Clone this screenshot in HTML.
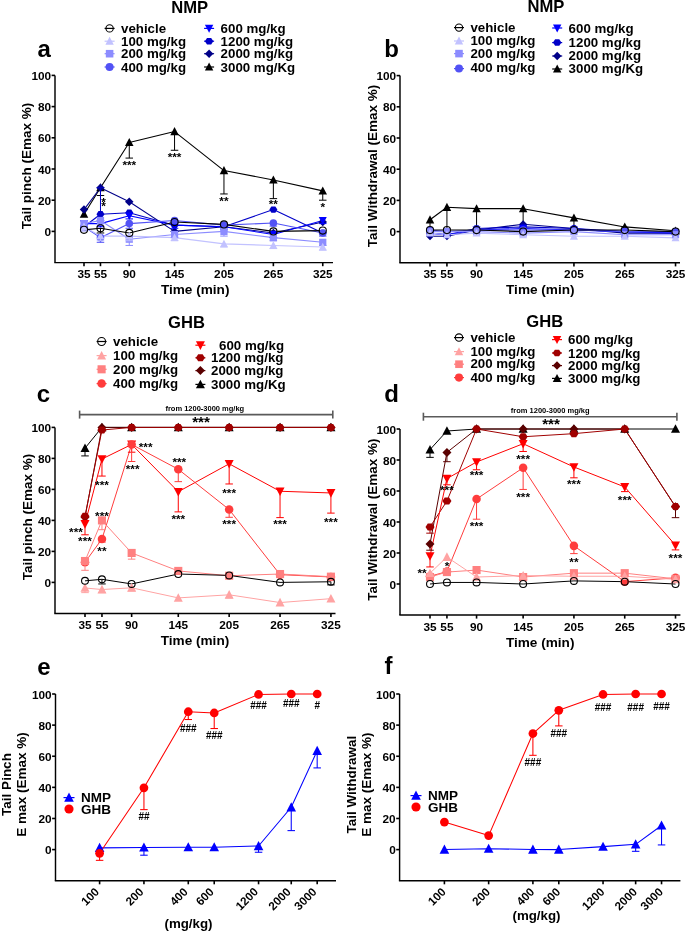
<!DOCTYPE html>
<html><head><meta charset="utf-8"><style>
html,body{margin:0;padding:0;background:#fff;}
body{width:685px;height:932px;overflow:hidden;font-family:"Liberation Sans",sans-serif;}
svg{display:block;will-change:transform;}
</style></head><body>
<svg width="685" height="932" viewBox="0 0 685 932" font-family="Liberation Sans, sans-serif"><text x="44.20" y="56.50" font-size="24" font-weight="bold" text-anchor="middle" fill="#000" >a</text>
<text x="189.60" y="13.00" font-size="16.6" font-weight="bold" text-anchor="middle" fill="#000" >NMP</text>
<line x1="104.60" y1="28.40" x2="114.60" y2="28.40" stroke="#000" stroke-width="1.2" />
<circle cx="109.60" cy="28.40" r="3.65" fill="none" stroke="#000" stroke-width="1.1"/>
<text x="121.00" y="33.00" font-size="13.3" font-weight="bold" text-anchor="start" fill="#000" >vehicle</text>
<line x1="104.60" y1="41.20" x2="114.60" y2="41.20" stroke="#c2c2ff" stroke-width="1.2" />
<polygon points="109.60,36.81 113.80,44.79 105.40,44.79" fill="#c2c2ff"/>
<text x="121.00" y="45.80" font-size="13.3" font-weight="bold" text-anchor="start" fill="#000" >100 mg/kg</text>
<line x1="104.60" y1="53.70" x2="114.60" y2="53.70" stroke="#8c8cff" stroke-width="1.2" />
<rect x="105.82" y="49.92" width="7.56" height="7.56" fill="#8c8cff"/>
<text x="121.00" y="58.30" font-size="13.3" font-weight="bold" text-anchor="start" fill="#000" >200 mg/kg</text>
<line x1="104.60" y1="67.00" x2="114.60" y2="67.00" stroke="#5252f5" stroke-width="1.2" />
<circle cx="109.60" cy="67.00" r="3.99" fill="#5252f5"/>
<text x="121.00" y="71.60" font-size="13.3" font-weight="bold" text-anchor="start" fill="#000" >400 mg/kg</text>
<line x1="204.10" y1="28.40" x2="214.10" y2="28.40" stroke="#0000ff" stroke-width="1.2" />
<polygon points="204.90,24.81 213.30,24.81 209.10,32.79" fill="#0000ff"/>
<text x="220.60" y="33.00" font-size="13.3" font-weight="bold" text-anchor="start" fill="#000" >600 mg/kg</text>
<line x1="204.10" y1="41.20" x2="214.10" y2="41.20" stroke="#0000c8" stroke-width="1.2" />
<polygon points="213.30,41.20 211.20,44.47 207.00,44.47 204.90,41.20 207.00,37.93 211.20,37.93" fill="#0000c8"/>
<text x="220.60" y="45.80" font-size="13.3" font-weight="bold" text-anchor="start" fill="#000" >1200 mg/kg</text>
<line x1="204.10" y1="53.70" x2="214.10" y2="53.70" stroke="#000088" stroke-width="1.2" />
<polygon points="209.10,49.50 213.30,53.70 209.10,57.90 204.90,53.70" fill="#000088"/>
<text x="220.60" y="58.30" font-size="13.3" font-weight="bold" text-anchor="start" fill="#000" >2000 mg/kg</text>
<line x1="204.10" y1="67.00" x2="214.10" y2="67.00" stroke="#000000" stroke-width="1.2" />
<polygon points="209.10,62.61 213.30,70.59 204.90,70.59" fill="#000000"/>
<text x="220.60" y="71.60" font-size="13.3" font-weight="bold" text-anchor="start" fill="#000" >3000 mg/Kg</text>
<line x1="55.00" y1="75.40" x2="55.00" y2="262.60" stroke="#000" stroke-width="1.45" />
<line x1="51.60" y1="75.40" x2="55.00" y2="75.40" stroke="#000" stroke-width="1.6" />
<text x="51.10" y="79.90" font-size="11.8" font-weight="bold" text-anchor="end" fill="#000" >100</text>
<line x1="51.60" y1="106.60" x2="55.00" y2="106.60" stroke="#000" stroke-width="1.6" />
<text x="51.10" y="111.10" font-size="11.8" font-weight="bold" text-anchor="end" fill="#000" >80</text>
<line x1="51.60" y1="137.80" x2="55.00" y2="137.80" stroke="#000" stroke-width="1.6" />
<text x="51.10" y="142.30" font-size="11.8" font-weight="bold" text-anchor="end" fill="#000" >60</text>
<line x1="51.60" y1="169.00" x2="55.00" y2="169.00" stroke="#000" stroke-width="1.6" />
<text x="51.10" y="173.50" font-size="11.8" font-weight="bold" text-anchor="end" fill="#000" >40</text>
<line x1="51.60" y1="200.20" x2="55.00" y2="200.20" stroke="#000" stroke-width="1.6" />
<text x="51.10" y="204.70" font-size="11.8" font-weight="bold" text-anchor="end" fill="#000" >20</text>
<line x1="51.60" y1="231.40" x2="55.00" y2="231.40" stroke="#000" stroke-width="1.6" />
<text x="51.10" y="235.90" font-size="11.8" font-weight="bold" text-anchor="end" fill="#000" >0</text>
<line x1="54.30" y1="262.60" x2="333.00" y2="262.60" stroke="#000" stroke-width="1.45" />
<line x1="84.00" y1="262.60" x2="84.00" y2="266.20" stroke="#000" stroke-width="1.6" />
<text x="84.00" y="278.20" font-size="11.8" font-weight="bold" text-anchor="middle" fill="#000" >35</text>
<line x1="100.47" y1="262.60" x2="100.47" y2="266.20" stroke="#000" stroke-width="1.6" />
<text x="100.47" y="278.20" font-size="11.8" font-weight="bold" text-anchor="middle" fill="#000" >55</text>
<line x1="129.28" y1="262.60" x2="129.28" y2="266.20" stroke="#000" stroke-width="1.6" />
<text x="129.28" y="278.20" font-size="11.8" font-weight="bold" text-anchor="middle" fill="#000" >90</text>
<line x1="174.56" y1="262.60" x2="174.56" y2="266.20" stroke="#000" stroke-width="1.6" />
<text x="174.56" y="278.20" font-size="11.8" font-weight="bold" text-anchor="middle" fill="#000" >145</text>
<line x1="223.96" y1="262.60" x2="223.96" y2="266.20" stroke="#000" stroke-width="1.6" />
<text x="223.96" y="278.20" font-size="11.8" font-weight="bold" text-anchor="middle" fill="#000" >205</text>
<line x1="273.36" y1="262.60" x2="273.36" y2="266.20" stroke="#000" stroke-width="1.6" />
<text x="273.36" y="278.20" font-size="11.8" font-weight="bold" text-anchor="middle" fill="#000" >265</text>
<line x1="322.76" y1="262.60" x2="322.76" y2="266.20" stroke="#000" stroke-width="1.6" />
<text x="322.76" y="278.20" font-size="11.8" font-weight="bold" text-anchor="middle" fill="#000" >325</text>
<text x="195.20" y="294.20" font-size="13.6" font-weight="bold" text-anchor="middle" fill="#000" >Time (min)</text>
<text x="31.40" y="166.00" font-size="13.5" font-weight="bold" text-anchor="middle" transform="rotate(-90 31.40 166.00)">Tail pinch (Emax %)</text>
<polyline points="84.00,214.24 100.47,187.72 129.28,142.48 174.56,131.56 223.96,170.56 273.36,179.92 322.76,190.84" fill="none" stroke="#000000" stroke-width="1.1" stroke-linejoin="round"/>
<polyline points="84.00,209.56 100.47,187.72 129.28,201.76 174.56,231.40 223.96,226.72 273.36,232.96 322.76,222.04" fill="none" stroke="#000088" stroke-width="1.1" stroke-linejoin="round"/>
<polyline points="84.00,226.72 100.47,214.24 129.28,212.68 174.56,225.16 223.96,226.72 273.36,209.56 322.76,232.96" fill="none" stroke="#0000c8" stroke-width="1.1" stroke-linejoin="round"/>
<polyline points="84.00,223.60 100.47,223.60 129.28,215.80 174.56,225.16 223.96,226.72 273.36,234.52 322.76,220.48" fill="none" stroke="#0000ff" stroke-width="1.1" stroke-linejoin="round"/>
<polyline points="84.00,226.72 100.47,237.64 129.28,223.60 174.56,220.48 223.96,225.16 273.36,222.98 322.76,232.96" fill="none" stroke="#5252f5" stroke-width="1.1" stroke-linejoin="round"/>
<polyline points="84.00,223.60 100.47,220.48 129.28,239.20 174.56,234.52 223.96,231.40 273.36,237.64 322.76,242.32" fill="none" stroke="#8c8cff" stroke-width="1.1" stroke-linejoin="round"/>
<polyline points="84.00,226.72 100.47,236.08 129.28,236.08 174.56,237.64 223.96,243.88 273.36,245.44 322.76,247.00" fill="none" stroke="#c2c2ff" stroke-width="1.1" stroke-linejoin="round"/>
<polyline points="84.00,229.84 100.47,228.28 129.28,232.96 174.56,222.04 223.96,224.38 273.36,231.40 322.76,230.62" fill="none" stroke="#000000" stroke-width="1.1" stroke-linejoin="round"/>
<line x1="100.47" y1="187.72" x2="100.47" y2="195.52" stroke="#000000" stroke-width="1.0" />
<line x1="96.72" y1="195.52" x2="104.22" y2="195.52" stroke="#000000" stroke-width="1.0" />
<line x1="129.28" y1="142.48" x2="129.28" y2="158.08" stroke="#000000" stroke-width="1.0" />
<line x1="125.53" y1="158.08" x2="133.03" y2="158.08" stroke="#000000" stroke-width="1.0" />
<line x1="174.56" y1="131.56" x2="174.56" y2="150.28" stroke="#000000" stroke-width="1.0" />
<line x1="170.81" y1="150.28" x2="178.31" y2="150.28" stroke="#000000" stroke-width="1.0" />
<line x1="223.96" y1="170.56" x2="223.96" y2="193.96" stroke="#000000" stroke-width="1.0" />
<line x1="220.21" y1="193.96" x2="227.71" y2="193.96" stroke="#000000" stroke-width="1.0" />
<line x1="273.36" y1="179.92" x2="273.36" y2="198.64" stroke="#000000" stroke-width="1.0" />
<line x1="269.61" y1="198.64" x2="277.11" y2="198.64" stroke="#000000" stroke-width="1.0" />
<line x1="322.76" y1="190.84" x2="322.76" y2="200.20" stroke="#000000" stroke-width="1.0" />
<line x1="319.01" y1="200.20" x2="326.51" y2="200.20" stroke="#000000" stroke-width="1.0" />
<polygon points="84.00,209.80 88.25,217.87 79.75,217.87" fill="#000000"/>
<polygon points="100.47,183.28 104.72,191.35 96.22,191.35" fill="#000000"/>
<polygon points="129.28,138.04 133.53,146.11 125.03,146.11" fill="#000000"/>
<polygon points="174.56,127.12 178.81,135.19 170.31,135.19" fill="#000000"/>
<polygon points="223.96,166.12 228.21,174.19 219.71,174.19" fill="#000000"/>
<polygon points="273.36,175.48 277.61,183.55 269.11,183.55" fill="#000000"/>
<polygon points="322.76,186.40 327.01,194.47 318.51,194.47" fill="#000000"/>
<polygon points="84.00,205.31 88.25,209.56 84.00,213.81 79.75,209.56" fill="#000088"/>
<polygon points="100.47,183.47 104.72,187.72 100.47,191.97 96.22,187.72" fill="#000088"/>
<polygon points="129.28,197.51 133.53,201.76 129.28,206.01 125.03,201.76" fill="#000088"/>
<polygon points="174.56,227.15 178.81,231.40 174.56,235.65 170.31,231.40" fill="#000088"/>
<polygon points="223.96,222.47 228.21,226.72 223.96,230.97 219.71,226.72" fill="#000088"/>
<polygon points="273.36,228.71 277.61,232.96 273.36,237.21 269.11,232.96" fill="#000088"/>
<polygon points="322.76,217.79 327.01,222.04 322.76,226.29 318.51,222.04" fill="#000088"/>
<line x1="100.47" y1="214.24" x2="100.47" y2="187.72" stroke="#0000c8" stroke-width="1.0" />
<line x1="96.72" y1="187.72" x2="104.22" y2="187.72" stroke="#0000c8" stroke-width="1.0" />
<polygon points="88.00,226.72 86.00,229.84 82.00,229.84 80.00,226.72 82.00,223.60 86.00,223.60" fill="#0000c8"/>
<polygon points="104.47,214.24 102.47,217.36 98.47,217.36 96.47,214.24 98.47,211.12 102.47,211.12" fill="#0000c8"/>
<polygon points="133.28,212.68 131.28,215.80 127.28,215.80 125.28,212.68 127.28,209.56 131.28,209.56" fill="#0000c8"/>
<polygon points="178.56,225.16 176.56,228.28 172.56,228.28 170.56,225.16 172.56,222.04 176.56,222.04" fill="#0000c8"/>
<polygon points="227.96,226.72 225.96,229.84 221.96,229.84 219.96,226.72 221.96,223.60 225.96,223.60" fill="#0000c8"/>
<polygon points="277.36,209.56 275.36,212.68 271.36,212.68 269.36,209.56 271.36,206.44 275.36,206.44" fill="#0000c8"/>
<polygon points="326.76,232.96 324.76,236.08 320.76,236.08 318.76,232.96 320.76,229.84 324.76,229.84" fill="#0000c8"/>
<line x1="84.00" y1="223.60" x2="84.00" y2="226.72" stroke="#0000ff" stroke-width="1.0" />
<line x1="80.25" y1="226.72" x2="87.75" y2="226.72" stroke="#0000ff" stroke-width="1.0" />
<line x1="100.47" y1="223.60" x2="100.47" y2="226.72" stroke="#0000ff" stroke-width="1.0" />
<line x1="96.72" y1="226.72" x2="104.22" y2="226.72" stroke="#0000ff" stroke-width="1.0" />
<line x1="129.28" y1="215.80" x2="129.28" y2="218.92" stroke="#0000ff" stroke-width="1.0" />
<line x1="125.53" y1="218.92" x2="133.03" y2="218.92" stroke="#0000ff" stroke-width="1.0" />
<line x1="174.56" y1="225.16" x2="174.56" y2="228.28" stroke="#0000ff" stroke-width="1.0" />
<line x1="170.81" y1="228.28" x2="178.31" y2="228.28" stroke="#0000ff" stroke-width="1.0" />
<line x1="223.96" y1="226.72" x2="223.96" y2="229.84" stroke="#0000ff" stroke-width="1.0" />
<line x1="220.21" y1="229.84" x2="227.71" y2="229.84" stroke="#0000ff" stroke-width="1.0" />
<line x1="273.36" y1="234.52" x2="273.36" y2="237.64" stroke="#0000ff" stroke-width="1.0" />
<line x1="269.61" y1="237.64" x2="277.11" y2="237.64" stroke="#0000ff" stroke-width="1.0" />
<line x1="322.76" y1="220.48" x2="322.76" y2="223.60" stroke="#0000ff" stroke-width="1.0" />
<line x1="319.01" y1="223.60" x2="326.51" y2="223.60" stroke="#0000ff" stroke-width="1.0" />
<polygon points="80.00,220.18 88.00,220.18 84.00,227.78" fill="#0000ff"/>
<polygon points="96.47,220.18 104.47,220.18 100.47,227.78" fill="#0000ff"/>
<polygon points="125.28,212.38 133.28,212.38 129.28,219.98" fill="#0000ff"/>
<polygon points="170.56,221.74 178.56,221.74 174.56,229.34" fill="#0000ff"/>
<polygon points="219.96,223.30 227.96,223.30 223.96,230.90" fill="#0000ff"/>
<polygon points="269.36,231.10 277.36,231.10 273.36,238.70" fill="#0000ff"/>
<polygon points="318.76,217.06 326.76,217.06 322.76,224.66" fill="#0000ff"/>
<line x1="84.00" y1="226.72" x2="84.00" y2="229.84" stroke="#5252f5" stroke-width="1.0" />
<line x1="80.25" y1="229.84" x2="87.75" y2="229.84" stroke="#5252f5" stroke-width="1.0" />
<line x1="100.47" y1="237.64" x2="100.47" y2="242.32" stroke="#5252f5" stroke-width="1.0" />
<line x1="96.72" y1="242.32" x2="104.22" y2="242.32" stroke="#5252f5" stroke-width="1.0" />
<line x1="129.28" y1="223.60" x2="129.28" y2="228.28" stroke="#5252f5" stroke-width="1.0" />
<line x1="125.53" y1="228.28" x2="133.03" y2="228.28" stroke="#5252f5" stroke-width="1.0" />
<line x1="174.56" y1="220.48" x2="174.56" y2="223.60" stroke="#5252f5" stroke-width="1.0" />
<line x1="170.81" y1="223.60" x2="178.31" y2="223.60" stroke="#5252f5" stroke-width="1.0" />
<line x1="223.96" y1="225.16" x2="223.96" y2="228.28" stroke="#5252f5" stroke-width="1.0" />
<line x1="220.21" y1="228.28" x2="227.71" y2="228.28" stroke="#5252f5" stroke-width="1.0" />
<line x1="273.36" y1="222.98" x2="273.36" y2="226.10" stroke="#5252f5" stroke-width="1.0" />
<line x1="269.61" y1="226.10" x2="277.11" y2="226.10" stroke="#5252f5" stroke-width="1.0" />
<line x1="322.76" y1="232.96" x2="322.76" y2="236.08" stroke="#5252f5" stroke-width="1.0" />
<line x1="319.01" y1="236.08" x2="326.51" y2="236.08" stroke="#5252f5" stroke-width="1.0" />
<circle cx="84.00" cy="226.72" r="3.80" fill="#5252f5"/>
<circle cx="100.47" cy="237.64" r="3.80" fill="#5252f5"/>
<circle cx="129.28" cy="223.60" r="3.80" fill="#5252f5"/>
<circle cx="174.56" cy="220.48" r="3.80" fill="#5252f5"/>
<circle cx="223.96" cy="225.16" r="3.80" fill="#5252f5"/>
<circle cx="273.36" cy="222.98" r="3.80" fill="#5252f5"/>
<circle cx="322.76" cy="232.96" r="3.80" fill="#5252f5"/>
<line x1="84.00" y1="223.60" x2="84.00" y2="228.28" stroke="#8c8cff" stroke-width="1.0" />
<line x1="80.25" y1="228.28" x2="87.75" y2="228.28" stroke="#8c8cff" stroke-width="1.0" />
<line x1="100.47" y1="220.48" x2="100.47" y2="225.16" stroke="#8c8cff" stroke-width="1.0" />
<line x1="96.72" y1="225.16" x2="104.22" y2="225.16" stroke="#8c8cff" stroke-width="1.0" />
<line x1="129.28" y1="239.20" x2="129.28" y2="245.44" stroke="#8c8cff" stroke-width="1.0" />
<line x1="125.53" y1="245.44" x2="133.03" y2="245.44" stroke="#8c8cff" stroke-width="1.0" />
<line x1="174.56" y1="234.52" x2="174.56" y2="237.64" stroke="#8c8cff" stroke-width="1.0" />
<line x1="170.81" y1="237.64" x2="178.31" y2="237.64" stroke="#8c8cff" stroke-width="1.0" />
<line x1="223.96" y1="231.40" x2="223.96" y2="236.08" stroke="#8c8cff" stroke-width="1.0" />
<line x1="220.21" y1="236.08" x2="227.71" y2="236.08" stroke="#8c8cff" stroke-width="1.0" />
<line x1="273.36" y1="237.64" x2="273.36" y2="240.76" stroke="#8c8cff" stroke-width="1.0" />
<line x1="269.61" y1="240.76" x2="277.11" y2="240.76" stroke="#8c8cff" stroke-width="1.0" />
<line x1="322.76" y1="242.32" x2="322.76" y2="245.44" stroke="#8c8cff" stroke-width="1.0" />
<line x1="319.01" y1="245.44" x2="326.51" y2="245.44" stroke="#8c8cff" stroke-width="1.0" />
<rect x="80.40" y="220.00" width="7.20" height="7.20" fill="#8c8cff"/>
<rect x="96.87" y="216.88" width="7.20" height="7.20" fill="#8c8cff"/>
<rect x="125.68" y="235.60" width="7.20" height="7.20" fill="#8c8cff"/>
<rect x="170.96" y="230.92" width="7.20" height="7.20" fill="#8c8cff"/>
<rect x="220.36" y="227.80" width="7.20" height="7.20" fill="#8c8cff"/>
<rect x="269.76" y="234.04" width="7.20" height="7.20" fill="#8c8cff"/>
<rect x="319.16" y="238.72" width="7.20" height="7.20" fill="#8c8cff"/>
<line x1="84.00" y1="226.72" x2="84.00" y2="231.40" stroke="#c2c2ff" stroke-width="1.0" />
<line x1="80.25" y1="231.40" x2="87.75" y2="231.40" stroke="#c2c2ff" stroke-width="1.0" />
<line x1="100.47" y1="236.08" x2="100.47" y2="240.76" stroke="#c2c2ff" stroke-width="1.0" />
<line x1="96.72" y1="240.76" x2="104.22" y2="240.76" stroke="#c2c2ff" stroke-width="1.0" />
<line x1="129.28" y1="236.08" x2="129.28" y2="240.76" stroke="#c2c2ff" stroke-width="1.0" />
<line x1="125.53" y1="240.76" x2="133.03" y2="240.76" stroke="#c2c2ff" stroke-width="1.0" />
<line x1="174.56" y1="237.64" x2="174.56" y2="240.76" stroke="#c2c2ff" stroke-width="1.0" />
<line x1="170.81" y1="240.76" x2="178.31" y2="240.76" stroke="#c2c2ff" stroke-width="1.0" />
<line x1="223.96" y1="243.88" x2="223.96" y2="247.00" stroke="#c2c2ff" stroke-width="1.0" />
<line x1="220.21" y1="247.00" x2="227.71" y2="247.00" stroke="#c2c2ff" stroke-width="1.0" />
<line x1="273.36" y1="245.44" x2="273.36" y2="248.56" stroke="#c2c2ff" stroke-width="1.0" />
<line x1="269.61" y1="248.56" x2="277.11" y2="248.56" stroke="#c2c2ff" stroke-width="1.0" />
<line x1="322.76" y1="247.00" x2="322.76" y2="250.12" stroke="#c2c2ff" stroke-width="1.0" />
<line x1="319.01" y1="250.12" x2="326.51" y2="250.12" stroke="#c2c2ff" stroke-width="1.0" />
<polygon points="84.00,222.54 88.00,230.14 80.00,230.14" fill="#c2c2ff"/>
<polygon points="100.47,231.90 104.47,239.50 96.47,239.50" fill="#c2c2ff"/>
<polygon points="129.28,231.90 133.28,239.50 125.28,239.50" fill="#c2c2ff"/>
<polygon points="174.56,233.46 178.56,241.06 170.56,241.06" fill="#c2c2ff"/>
<polygon points="223.96,239.70 227.96,247.30 219.96,247.30" fill="#c2c2ff"/>
<polygon points="273.36,241.26 277.36,248.86 269.36,248.86" fill="#c2c2ff"/>
<polygon points="322.76,242.82 326.76,250.42 318.76,250.42" fill="#c2c2ff"/>
<line x1="100.47" y1="228.28" x2="100.47" y2="232.96" stroke="#000" stroke-width="1.0" />
<line x1="96.72" y1="232.96" x2="104.22" y2="232.96" stroke="#000" stroke-width="1.0" />
<circle cx="84.00" cy="229.84" r="3.55" fill="none" stroke="#000" stroke-width="1.1"/>
<circle cx="100.47" cy="228.28" r="3.55" fill="none" stroke="#000" stroke-width="1.1"/>
<circle cx="129.28" cy="232.96" r="3.55" fill="none" stroke="#000" stroke-width="1.1"/>
<circle cx="174.56" cy="222.04" r="3.55" fill="none" stroke="#000" stroke-width="1.1"/>
<circle cx="223.96" cy="224.38" r="3.55" fill="none" stroke="#000" stroke-width="1.1"/>
<circle cx="273.36" cy="231.40" r="3.55" fill="none" stroke="#000" stroke-width="1.1"/>
<circle cx="322.76" cy="230.62" r="3.55" fill="none" stroke="#000" stroke-width="1.1"/>
<text x="103.67" y="205.60" font-size="11.8" font-weight="bold" text-anchor="middle" fill="#000" >*</text>
<text x="103.67" y="210.28" font-size="11.8" font-weight="bold" text-anchor="middle" fill="#000" >*</text>
<text x="129.28" y="169.25" font-size="11.8" font-weight="bold" text-anchor="middle" fill="#000" >***</text>
<text x="174.56" y="161.45" font-size="11.8" font-weight="bold" text-anchor="middle" fill="#000" >***</text>
<text x="223.96" y="205.13" font-size="11.8" font-weight="bold" text-anchor="middle" fill="#000" >**</text>
<text x="273.36" y="208.25" font-size="11.8" font-weight="bold" text-anchor="middle" fill="#000" >**</text>
<text x="322.76" y="211.37" font-size="11.8" font-weight="bold" text-anchor="middle" fill="#000" >*</text>
<text x="391.50" y="57.00" font-size="24" font-weight="bold" text-anchor="middle" fill="#000" >b</text>
<text x="546.00" y="11.80" font-size="16.6" font-weight="bold" text-anchor="middle" fill="#000" >NMP</text>
<line x1="454.00" y1="27.60" x2="464.00" y2="27.60" stroke="#000" stroke-width="1.2" />
<circle cx="459.00" cy="27.60" r="3.65" fill="none" stroke="#000" stroke-width="1.1"/>
<text x="470.40" y="31.80" font-size="13.3" font-weight="bold" text-anchor="start" fill="#000" >vehicle</text>
<line x1="454.00" y1="41.00" x2="464.00" y2="41.00" stroke="#c2c2ff" stroke-width="1.2" />
<polygon points="459.00,36.61 463.20,44.59 454.80,44.59" fill="#c2c2ff"/>
<text x="470.40" y="44.60" font-size="13.3" font-weight="bold" text-anchor="start" fill="#000" >100 mg/kg</text>
<line x1="454.00" y1="53.60" x2="464.00" y2="53.60" stroke="#8c8cff" stroke-width="1.2" />
<rect x="455.22" y="49.82" width="7.56" height="7.56" fill="#8c8cff"/>
<text x="470.40" y="57.60" font-size="13.3" font-weight="bold" text-anchor="start" fill="#000" >200 mg/kg</text>
<line x1="454.00" y1="68.60" x2="464.00" y2="68.60" stroke="#5252f5" stroke-width="1.2" />
<circle cx="459.00" cy="68.60" r="3.99" fill="#5252f5"/>
<text x="470.40" y="72.00" font-size="13.3" font-weight="bold" text-anchor="start" fill="#000" >400 mg/kg</text>
<line x1="552.20" y1="28.00" x2="562.20" y2="28.00" stroke="#0000ff" stroke-width="1.2" />
<polygon points="553.00,24.41 561.40,24.41 557.20,32.39" fill="#0000ff"/>
<text x="568.60" y="32.60" font-size="13.3" font-weight="bold" text-anchor="start" fill="#000" >600 mg/kg</text>
<line x1="552.20" y1="42.60" x2="562.20" y2="42.60" stroke="#0000c8" stroke-width="1.2" />
<polygon points="561.40,42.60 559.30,45.87 555.10,45.87 553.00,42.60 555.10,39.33 559.30,39.33" fill="#0000c8"/>
<text x="568.60" y="46.60" font-size="13.3" font-weight="bold" text-anchor="start" fill="#000" >1200 mg/kg</text>
<line x1="552.20" y1="56.00" x2="562.20" y2="56.00" stroke="#000088" stroke-width="1.2" />
<polygon points="557.20,51.80 561.40,56.00 557.20,60.20 553.00,56.00" fill="#000088"/>
<text x="568.60" y="59.60" font-size="13.3" font-weight="bold" text-anchor="start" fill="#000" >2000 mg/kg</text>
<line x1="552.20" y1="69.00" x2="562.20" y2="69.00" stroke="#000000" stroke-width="1.2" />
<polygon points="557.20,64.61 561.40,72.59 553.00,72.59" fill="#000000"/>
<text x="568.60" y="73.00" font-size="13.3" font-weight="bold" text-anchor="start" fill="#000" >3000 mg/Kg</text>
<line x1="400.00" y1="75.60" x2="400.00" y2="262.80" stroke="#000" stroke-width="1.45" />
<line x1="396.60" y1="75.60" x2="400.00" y2="75.60" stroke="#000" stroke-width="1.6" />
<text x="396.10" y="80.10" font-size="11.8" font-weight="bold" text-anchor="end" fill="#000" >100</text>
<line x1="396.60" y1="106.80" x2="400.00" y2="106.80" stroke="#000" stroke-width="1.6" />
<text x="396.10" y="111.30" font-size="11.8" font-weight="bold" text-anchor="end" fill="#000" >80</text>
<line x1="396.60" y1="138.00" x2="400.00" y2="138.00" stroke="#000" stroke-width="1.6" />
<text x="396.10" y="142.50" font-size="11.8" font-weight="bold" text-anchor="end" fill="#000" >60</text>
<line x1="396.60" y1="169.20" x2="400.00" y2="169.20" stroke="#000" stroke-width="1.6" />
<text x="396.10" y="173.70" font-size="11.8" font-weight="bold" text-anchor="end" fill="#000" >40</text>
<line x1="396.60" y1="200.40" x2="400.00" y2="200.40" stroke="#000" stroke-width="1.6" />
<text x="396.10" y="204.90" font-size="11.8" font-weight="bold" text-anchor="end" fill="#000" >20</text>
<line x1="396.60" y1="231.60" x2="400.00" y2="231.60" stroke="#000" stroke-width="1.6" />
<text x="396.10" y="236.10" font-size="11.8" font-weight="bold" text-anchor="end" fill="#000" >0</text>
<line x1="399.30" y1="262.80" x2="680.00" y2="262.80" stroke="#000" stroke-width="1.45" />
<line x1="430.00" y1="262.80" x2="430.00" y2="266.40" stroke="#000" stroke-width="1.6" />
<text x="430.00" y="278.40" font-size="11.8" font-weight="bold" text-anchor="middle" fill="#000" >35</text>
<line x1="446.93" y1="262.80" x2="446.93" y2="266.40" stroke="#000" stroke-width="1.6" />
<text x="446.93" y="278.40" font-size="11.8" font-weight="bold" text-anchor="middle" fill="#000" >55</text>
<line x1="476.57" y1="262.80" x2="476.57" y2="266.40" stroke="#000" stroke-width="1.6" />
<text x="476.57" y="278.40" font-size="11.8" font-weight="bold" text-anchor="middle" fill="#000" >90</text>
<line x1="523.14" y1="262.80" x2="523.14" y2="266.40" stroke="#000" stroke-width="1.6" />
<text x="523.14" y="278.40" font-size="11.8" font-weight="bold" text-anchor="middle" fill="#000" >145</text>
<line x1="573.94" y1="262.80" x2="573.94" y2="266.40" stroke="#000" stroke-width="1.6" />
<text x="573.94" y="278.40" font-size="11.8" font-weight="bold" text-anchor="middle" fill="#000" >205</text>
<line x1="624.74" y1="262.80" x2="624.74" y2="266.40" stroke="#000" stroke-width="1.6" />
<text x="624.74" y="278.40" font-size="11.8" font-weight="bold" text-anchor="middle" fill="#000" >265</text>
<line x1="675.54" y1="262.80" x2="675.54" y2="266.40" stroke="#000" stroke-width="1.6" />
<text x="675.54" y="278.40" font-size="11.8" font-weight="bold" text-anchor="middle" fill="#000" >325</text>
<text x="540.30" y="294.40" font-size="13.6" font-weight="bold" text-anchor="middle" fill="#000" >Time (min)</text>
<text x="377.40" y="166.00" font-size="13.5" font-weight="bold" text-anchor="middle" transform="rotate(-90 377.40 166.00)">Tail Withdrawal (Emax %)</text>
<polyline points="430.00,219.74 446.93,207.26 476.57,208.67 523.14,208.67 573.94,217.87 624.74,226.92 675.54,230.82" fill="none" stroke="#000000" stroke-width="1.1" stroke-linejoin="round"/>
<polyline points="430.00,236.28 446.93,236.28 476.57,230.04 523.14,224.27 573.94,228.48 624.74,233.16 675.54,233.16" fill="none" stroke="#000088" stroke-width="1.1" stroke-linejoin="round"/>
<polyline points="430.00,233.16 446.93,234.72 476.57,228.48 523.14,226.92 573.94,228.48 624.74,231.60 675.54,231.60" fill="none" stroke="#0000c8" stroke-width="1.1" stroke-linejoin="round"/>
<polyline points="430.00,233.16 446.93,234.72 476.57,230.04 523.14,228.48 573.94,230.04 624.74,231.60 675.54,233.16" fill="none" stroke="#0000ff" stroke-width="1.1" stroke-linejoin="round"/>
<polyline points="430.00,230.04 446.93,231.60 476.57,230.04 523.14,230.04 573.94,230.04 624.74,231.60 675.54,231.60" fill="none" stroke="#5252f5" stroke-width="1.1" stroke-linejoin="round"/>
<polyline points="430.00,231.60 446.93,231.60 476.57,231.60 523.14,233.16 573.94,231.60 624.74,234.72 675.54,234.72" fill="none" stroke="#8c8cff" stroke-width="1.1" stroke-linejoin="round"/>
<polyline points="430.00,233.16 446.93,234.72 476.57,233.16 523.14,234.72 573.94,236.28 624.74,236.28 675.54,237.84" fill="none" stroke="#c2c2ff" stroke-width="1.1" stroke-linejoin="round"/>
<polyline points="430.00,230.04 446.93,230.04 476.57,230.04 523.14,231.60 573.94,230.04 624.74,230.04 675.54,231.60" fill="none" stroke="#000000" stroke-width="1.1" stroke-linejoin="round"/>
<line x1="430.00" y1="219.74" x2="430.00" y2="230.66" stroke="#000000" stroke-width="1.0" />
<line x1="426.25" y1="230.66" x2="433.75" y2="230.66" stroke="#000000" stroke-width="1.0" />
<line x1="446.93" y1="207.26" x2="446.93" y2="230.66" stroke="#000000" stroke-width="1.0" />
<line x1="443.18" y1="230.66" x2="450.68" y2="230.66" stroke="#000000" stroke-width="1.0" />
<line x1="476.57" y1="208.67" x2="476.57" y2="230.51" stroke="#000000" stroke-width="1.0" />
<line x1="472.82" y1="230.51" x2="480.32" y2="230.51" stroke="#000000" stroke-width="1.0" />
<line x1="523.14" y1="208.67" x2="523.14" y2="230.51" stroke="#000000" stroke-width="1.0" />
<line x1="519.39" y1="230.51" x2="526.89" y2="230.51" stroke="#000000" stroke-width="1.0" />
<line x1="573.94" y1="217.87" x2="573.94" y2="230.35" stroke="#000000" stroke-width="1.0" />
<line x1="570.19" y1="230.35" x2="577.69" y2="230.35" stroke="#000000" stroke-width="1.0" />
<line x1="624.74" y1="226.92" x2="624.74" y2="231.60" stroke="#000000" stroke-width="1.0" />
<line x1="620.99" y1="231.60" x2="628.49" y2="231.60" stroke="#000000" stroke-width="1.0" />
<polygon points="430.00,215.30 434.25,223.38 425.75,223.38" fill="#000000"/>
<polygon points="446.93,202.82 451.18,210.90 442.68,210.90" fill="#000000"/>
<polygon points="476.57,204.23 480.82,212.30 472.32,212.30" fill="#000000"/>
<polygon points="523.14,204.23 527.39,212.30 518.89,212.30" fill="#000000"/>
<polygon points="573.94,213.43 578.19,221.51 569.69,221.51" fill="#000000"/>
<polygon points="624.74,222.48 628.99,230.55 620.49,230.55" fill="#000000"/>
<polygon points="675.54,226.38 679.79,234.45 671.29,234.45" fill="#000000"/>
<polygon points="430.00,232.28 434.00,236.28 430.00,240.28 426.00,236.28" fill="#000088"/>
<polygon points="446.93,232.28 450.93,236.28 446.93,240.28 442.93,236.28" fill="#000088"/>
<polygon points="476.57,226.04 480.57,230.04 476.57,234.04 472.57,230.04" fill="#000088"/>
<polygon points="523.14,220.27 527.14,224.27 523.14,228.27 519.14,224.27" fill="#000088"/>
<polygon points="573.94,224.48 577.94,228.48 573.94,232.48 569.94,228.48" fill="#000088"/>
<polygon points="624.74,229.16 628.74,233.16 624.74,237.16 620.74,233.16" fill="#000088"/>
<polygon points="675.54,229.16 679.54,233.16 675.54,237.16 671.54,233.16" fill="#000088"/>
<polygon points="434.00,233.16 432.00,236.28 428.00,236.28 426.00,233.16 428.00,230.04 432.00,230.04" fill="#0000c8"/>
<polygon points="450.93,234.72 448.93,237.84 444.93,237.84 442.93,234.72 444.93,231.60 448.93,231.60" fill="#0000c8"/>
<polygon points="480.57,228.48 478.57,231.60 474.57,231.60 472.57,228.48 474.57,225.36 478.57,225.36" fill="#0000c8"/>
<polygon points="527.14,226.92 525.14,230.04 521.14,230.04 519.14,226.92 521.14,223.80 525.14,223.80" fill="#0000c8"/>
<polygon points="577.94,228.48 575.94,231.60 571.94,231.60 569.94,228.48 571.94,225.36 575.94,225.36" fill="#0000c8"/>
<polygon points="628.74,231.60 626.74,234.72 622.74,234.72 620.74,231.60 622.74,228.48 626.74,228.48" fill="#0000c8"/>
<polygon points="679.54,231.60 677.54,234.72 673.54,234.72 671.54,231.60 673.54,228.48 677.54,228.48" fill="#0000c8"/>
<polygon points="426.00,229.74 434.00,229.74 430.00,237.34" fill="#0000ff"/>
<polygon points="442.93,231.30 450.93,231.30 446.93,238.90" fill="#0000ff"/>
<polygon points="472.57,226.62 480.57,226.62 476.57,234.22" fill="#0000ff"/>
<polygon points="519.14,225.06 527.14,225.06 523.14,232.66" fill="#0000ff"/>
<polygon points="569.94,226.62 577.94,226.62 573.94,234.22" fill="#0000ff"/>
<polygon points="620.74,228.18 628.74,228.18 624.74,235.78" fill="#0000ff"/>
<polygon points="671.54,229.74 679.54,229.74 675.54,237.34" fill="#0000ff"/>
<circle cx="430.00" cy="230.04" r="3.80" fill="#5252f5"/>
<circle cx="446.93" cy="231.60" r="3.80" fill="#5252f5"/>
<circle cx="476.57" cy="230.04" r="3.80" fill="#5252f5"/>
<circle cx="523.14" cy="230.04" r="3.80" fill="#5252f5"/>
<circle cx="573.94" cy="230.04" r="3.80" fill="#5252f5"/>
<circle cx="624.74" cy="231.60" r="3.80" fill="#5252f5"/>
<circle cx="675.54" cy="231.60" r="3.80" fill="#5252f5"/>
<rect x="426.40" y="228.00" width="7.20" height="7.20" fill="#8c8cff"/>
<rect x="443.33" y="228.00" width="7.20" height="7.20" fill="#8c8cff"/>
<rect x="472.97" y="228.00" width="7.20" height="7.20" fill="#8c8cff"/>
<rect x="519.54" y="229.56" width="7.20" height="7.20" fill="#8c8cff"/>
<rect x="570.34" y="228.00" width="7.20" height="7.20" fill="#8c8cff"/>
<rect x="621.14" y="231.12" width="7.20" height="7.20" fill="#8c8cff"/>
<rect x="671.94" y="231.12" width="7.20" height="7.20" fill="#8c8cff"/>
<polygon points="430.00,228.98 434.00,236.58 426.00,236.58" fill="#c2c2ff"/>
<polygon points="446.93,230.54 450.93,238.14 442.93,238.14" fill="#c2c2ff"/>
<polygon points="476.57,228.98 480.57,236.58 472.57,236.58" fill="#c2c2ff"/>
<polygon points="523.14,230.54 527.14,238.14 519.14,238.14" fill="#c2c2ff"/>
<polygon points="573.94,232.10 577.94,239.70 569.94,239.70" fill="#c2c2ff"/>
<polygon points="624.74,232.10 628.74,239.70 620.74,239.70" fill="#c2c2ff"/>
<polygon points="675.54,233.66 679.54,241.26 671.54,241.26" fill="#c2c2ff"/>
<circle cx="430.00" cy="230.04" r="3.55" fill="none" stroke="#000" stroke-width="1.1"/>
<circle cx="446.93" cy="230.04" r="3.55" fill="none" stroke="#000" stroke-width="1.1"/>
<circle cx="476.57" cy="230.04" r="3.55" fill="none" stroke="#000" stroke-width="1.1"/>
<circle cx="523.14" cy="231.60" r="3.55" fill="none" stroke="#000" stroke-width="1.1"/>
<circle cx="573.94" cy="230.04" r="3.55" fill="none" stroke="#000" stroke-width="1.1"/>
<circle cx="624.74" cy="230.04" r="3.55" fill="none" stroke="#000" stroke-width="1.1"/>
<circle cx="675.54" cy="231.60" r="3.55" fill="none" stroke="#000" stroke-width="1.1"/>
<text x="43.50" y="402.40" font-size="24" font-weight="bold" text-anchor="middle" fill="#000" >c</text>
<text x="186.50" y="328.20" font-size="16.6" font-weight="bold" text-anchor="middle" fill="#000" >GHB</text>
<line x1="96.60" y1="341.50" x2="106.60" y2="341.50" stroke="#000" stroke-width="1.2" />
<circle cx="101.60" cy="341.50" r="3.95" fill="none" stroke="#000" stroke-width="1.1"/>
<text x="113.00" y="345.80" font-size="13.3" font-weight="bold" text-anchor="start" fill="#000" >vehicle</text>
<line x1="96.60" y1="355.60" x2="106.60" y2="355.60" stroke="#ffa3a3" stroke-width="1.2" />
<polygon points="101.60,350.90 106.10,359.45 97.10,359.45" fill="#ffa3a3"/>
<text x="113.00" y="359.90" font-size="13.3" font-weight="bold" text-anchor="start" fill="#000" >100 mg/kg</text>
<line x1="96.60" y1="369.30" x2="106.60" y2="369.30" stroke="#ff8080" stroke-width="1.2" />
<rect x="97.55" y="365.25" width="8.10" height="8.10" fill="#ff8080"/>
<text x="113.00" y="373.60" font-size="13.3" font-weight="bold" text-anchor="start" fill="#000" >200 mg/kg</text>
<line x1="96.60" y1="383.60" x2="106.60" y2="383.60" stroke="#ff3c3c" stroke-width="1.2" />
<circle cx="101.60" cy="383.60" r="4.27" fill="#ff3c3c"/>
<text x="113.00" y="387.90" font-size="13.3" font-weight="bold" text-anchor="start" fill="#000" >400 mg/kg</text>
<line x1="195.40" y1="345.20" x2="205.40" y2="345.20" stroke="#ff0000" stroke-width="1.2" />
<polygon points="195.90,341.35 204.90,341.35 200.40,349.90" fill="#ff0000"/>
<text x="219.00" y="349.80" font-size="13.3" font-weight="bold" text-anchor="start" fill="#000" >600 mg/kg</text>
<line x1="195.40" y1="357.80" x2="205.40" y2="357.80" stroke="#a00000" stroke-width="1.2" />
<polygon points="204.90,357.80 202.65,361.31 198.15,361.31 195.90,357.80 198.15,354.29 202.65,354.29" fill="#a00000"/>
<text x="211.00" y="362.40" font-size="13.3" font-weight="bold" text-anchor="start" fill="#000" >1200 mg/kg</text>
<line x1="195.40" y1="370.60" x2="205.40" y2="370.60" stroke="#5a0000" stroke-width="1.2" />
<polygon points="200.40,366.10 204.90,370.60 200.40,375.10 195.90,370.60" fill="#5a0000"/>
<text x="211.00" y="375.20" font-size="13.3" font-weight="bold" text-anchor="start" fill="#000" >2000 mg/kg</text>
<line x1="195.40" y1="384.40" x2="205.40" y2="384.40" stroke="#000000" stroke-width="1.2" />
<polygon points="200.40,379.70 204.90,388.25 195.90,388.25" fill="#000000"/>
<text x="211.00" y="389.00" font-size="13.3" font-weight="bold" text-anchor="start" fill="#000" >3000 mg/Kg</text>
<line x1="55.00" y1="427.40" x2="55.00" y2="613.40" stroke="#000" stroke-width="1.45" />
<line x1="51.60" y1="427.40" x2="55.00" y2="427.40" stroke="#000" stroke-width="1.6" />
<text x="51.10" y="431.90" font-size="11.8" font-weight="bold" text-anchor="end" fill="#000" >100</text>
<line x1="51.60" y1="458.40" x2="55.00" y2="458.40" stroke="#000" stroke-width="1.6" />
<text x="51.10" y="462.90" font-size="11.8" font-weight="bold" text-anchor="end" fill="#000" >80</text>
<line x1="51.60" y1="489.40" x2="55.00" y2="489.40" stroke="#000" stroke-width="1.6" />
<text x="51.10" y="493.90" font-size="11.8" font-weight="bold" text-anchor="end" fill="#000" >60</text>
<line x1="51.60" y1="520.40" x2="55.00" y2="520.40" stroke="#000" stroke-width="1.6" />
<text x="51.10" y="524.90" font-size="11.8" font-weight="bold" text-anchor="end" fill="#000" >40</text>
<line x1="51.60" y1="551.40" x2="55.00" y2="551.40" stroke="#000" stroke-width="1.6" />
<text x="51.10" y="555.90" font-size="11.8" font-weight="bold" text-anchor="end" fill="#000" >20</text>
<line x1="51.60" y1="582.40" x2="55.00" y2="582.40" stroke="#000" stroke-width="1.6" />
<text x="51.10" y="586.90" font-size="11.8" font-weight="bold" text-anchor="end" fill="#000" >0</text>
<line x1="54.30" y1="613.40" x2="335.50" y2="613.40" stroke="#000" stroke-width="1.45" />
<line x1="85.00" y1="613.40" x2="85.00" y2="617.00" stroke="#000" stroke-width="1.6" />
<text x="85.00" y="629.00" font-size="11.8" font-weight="bold" text-anchor="middle" fill="#000" >35</text>
<line x1="101.96" y1="613.40" x2="101.96" y2="617.00" stroke="#000" stroke-width="1.6" />
<text x="101.96" y="629.00" font-size="11.8" font-weight="bold" text-anchor="middle" fill="#000" >55</text>
<line x1="131.64" y1="613.40" x2="131.64" y2="617.00" stroke="#000" stroke-width="1.6" />
<text x="131.64" y="629.00" font-size="11.8" font-weight="bold" text-anchor="middle" fill="#000" >90</text>
<line x1="178.28" y1="613.40" x2="178.28" y2="617.00" stroke="#000" stroke-width="1.6" />
<text x="178.28" y="629.00" font-size="11.8" font-weight="bold" text-anchor="middle" fill="#000" >145</text>
<line x1="229.16" y1="613.40" x2="229.16" y2="617.00" stroke="#000" stroke-width="1.6" />
<text x="229.16" y="629.00" font-size="11.8" font-weight="bold" text-anchor="middle" fill="#000" >205</text>
<line x1="280.04" y1="613.40" x2="280.04" y2="617.00" stroke="#000" stroke-width="1.6" />
<text x="280.04" y="629.00" font-size="11.8" font-weight="bold" text-anchor="middle" fill="#000" >265</text>
<line x1="330.92" y1="613.40" x2="330.92" y2="617.00" stroke="#000" stroke-width="1.6" />
<text x="330.92" y="629.00" font-size="11.8" font-weight="bold" text-anchor="middle" fill="#000" >325</text>
<text x="195.00" y="645.00" font-size="13.6" font-weight="bold" text-anchor="middle" fill="#000" >Time (min)</text>
<text x="32.40" y="517.00" font-size="13.5" font-weight="bold" text-anchor="middle" transform="rotate(-90 32.40 517.00)">Tail pinch (Emax %)</text>
<polyline points="85.00,448.17 101.96,427.40 131.64,427.40 178.28,427.40 229.16,427.40 280.04,427.40 330.92,427.40" fill="none" stroke="#000000" stroke-width="1.0" stroke-linejoin="round"/>
<polyline points="85.00,517.30 101.96,427.40 131.64,427.40 178.28,427.40 229.16,427.40 280.04,427.40 330.92,427.40" fill="none" stroke="#5a0000" stroke-width="1.0" stroke-linejoin="round"/>
<polyline points="85.00,516.21 101.96,430.03 131.64,427.40 178.28,427.40 229.16,427.40 280.04,427.40 330.92,427.40" fill="none" stroke="#a00000" stroke-width="1.0" stroke-linejoin="round"/>
<polyline points="85.00,523.96 101.96,459.02 131.64,444.45 178.28,491.72 229.16,463.82 280.04,491.26 330.92,492.96" fill="none" stroke="#ff0000" stroke-width="1.0" stroke-linejoin="round"/>
<polyline points="85.00,562.25 101.96,539.00 131.64,444.45 178.28,469.25 229.16,509.55 280.04,574.65 330.92,576.98" fill="none" stroke="#ff3c3c" stroke-width="1.0" stroke-linejoin="round"/>
<polyline points="85.00,561.01 101.96,520.40 131.64,552.95 178.28,570.93 229.16,575.74 280.04,574.03 330.92,576.66" fill="none" stroke="#ff8080" stroke-width="1.0" stroke-linejoin="round"/>
<polyline points="85.00,587.98 101.96,589.53 131.64,587.82 178.28,597.90 229.16,594.80 280.04,602.55 330.92,598.67" fill="none" stroke="#ffa3a3" stroke-width="1.0" stroke-linejoin="round"/>
<polyline points="85.00,580.85 101.96,579.30 131.64,583.95 178.28,574.03 229.16,575.42 280.04,582.40 330.92,581.78" fill="none" stroke="#000000" stroke-width="1.0" stroke-linejoin="round"/>
<line x1="85.00" y1="448.17" x2="85.00" y2="455.92" stroke="#000000" stroke-width="1.0" />
<line x1="81.25" y1="455.92" x2="88.75" y2="455.92" stroke="#000000" stroke-width="1.0" />
<polygon points="85.00,443.47 89.50,452.02 80.50,452.02" fill="#000000"/>
<polygon points="101.96,422.70 106.46,431.25 97.46,431.25" fill="#000000"/>
<polygon points="131.64,422.70 136.14,431.25 127.14,431.25" fill="#000000"/>
<polygon points="178.28,422.70 182.78,431.25 173.78,431.25" fill="#000000"/>
<polygon points="229.16,422.70 233.66,431.25 224.66,431.25" fill="#000000"/>
<polygon points="280.04,422.70 284.54,431.25 275.54,431.25" fill="#000000"/>
<polygon points="330.92,422.70 335.42,431.25 326.42,431.25" fill="#000000"/>
<polygon points="85.00,512.80 89.50,517.30 85.00,521.80 80.50,517.30" fill="#5a0000"/>
<polygon points="101.96,422.90 106.46,427.40 101.96,431.90 97.46,427.40" fill="#5a0000"/>
<polygon points="131.64,422.90 136.14,427.40 131.64,431.90 127.14,427.40" fill="#5a0000"/>
<polygon points="178.28,422.90 182.78,427.40 178.28,431.90 173.78,427.40" fill="#5a0000"/>
<polygon points="229.16,422.90 233.66,427.40 229.16,431.90 224.66,427.40" fill="#5a0000"/>
<polygon points="280.04,422.90 284.54,427.40 280.04,431.90 275.54,427.40" fill="#5a0000"/>
<polygon points="330.92,422.90 335.42,427.40 330.92,431.90 326.42,427.40" fill="#5a0000"/>
<polygon points="89.50,516.21 87.25,519.72 82.75,519.72 80.50,516.21 82.75,512.71 87.25,512.71" fill="#a00000"/>
<polygon points="106.46,430.03 104.21,433.54 99.71,433.54 97.46,430.03 99.71,426.53 104.21,426.53" fill="#a00000"/>
<polygon points="136.14,427.40 133.89,430.91 129.39,430.91 127.14,427.40 129.39,423.89 133.89,423.89" fill="#a00000"/>
<polygon points="182.78,427.40 180.53,430.91 176.03,430.91 173.78,427.40 176.03,423.89 180.53,423.89" fill="#a00000"/>
<polygon points="233.66,427.40 231.41,430.91 226.91,430.91 224.66,427.40 226.91,423.89 231.41,423.89" fill="#a00000"/>
<polygon points="284.54,427.40 282.29,430.91 277.79,430.91 275.54,427.40 277.79,423.89 282.29,423.89" fill="#a00000"/>
<polygon points="335.42,427.40 333.17,430.91 328.67,430.91 326.42,427.40 328.67,423.89 333.17,423.89" fill="#a00000"/>
<line x1="85.00" y1="523.96" x2="85.00" y2="534.81" stroke="#ff0000" stroke-width="1.0" />
<line x1="81.25" y1="534.81" x2="88.75" y2="534.81" stroke="#ff0000" stroke-width="1.0" />
<line x1="101.96" y1="459.02" x2="101.96" y2="476.07" stroke="#ff0000" stroke-width="1.0" />
<line x1="98.21" y1="476.07" x2="105.71" y2="476.07" stroke="#ff0000" stroke-width="1.0" />
<line x1="131.64" y1="444.45" x2="131.64" y2="452.20" stroke="#ff0000" stroke-width="1.0" />
<line x1="127.89" y1="452.20" x2="135.39" y2="452.20" stroke="#ff0000" stroke-width="1.0" />
<line x1="178.28" y1="491.72" x2="178.28" y2="511.88" stroke="#ff0000" stroke-width="1.0" />
<line x1="174.53" y1="511.88" x2="182.03" y2="511.88" stroke="#ff0000" stroke-width="1.0" />
<line x1="229.16" y1="463.82" x2="229.16" y2="483.97" stroke="#ff0000" stroke-width="1.0" />
<line x1="225.41" y1="483.97" x2="232.91" y2="483.97" stroke="#ff0000" stroke-width="1.0" />
<line x1="280.04" y1="491.26" x2="280.04" y2="517.61" stroke="#ff0000" stroke-width="1.0" />
<line x1="276.29" y1="517.61" x2="283.79" y2="517.61" stroke="#ff0000" stroke-width="1.0" />
<line x1="330.92" y1="492.96" x2="330.92" y2="513.12" stroke="#ff0000" stroke-width="1.0" />
<line x1="327.17" y1="513.12" x2="334.67" y2="513.12" stroke="#ff0000" stroke-width="1.0" />
<polygon points="80.50,520.12 89.50,520.12 85.00,528.67" fill="#ff0000"/>
<polygon points="97.46,455.17 106.46,455.17 101.96,463.72" fill="#ff0000"/>
<polygon points="127.14,440.60 136.14,440.60 131.64,449.15" fill="#ff0000"/>
<polygon points="173.78,487.88 182.78,487.88 178.28,496.43" fill="#ff0000"/>
<polygon points="224.66,459.98 233.66,459.98 229.16,468.53" fill="#ff0000"/>
<polygon points="275.54,487.41 284.54,487.41 280.04,495.96" fill="#ff0000"/>
<polygon points="326.42,489.12 335.42,489.12 330.92,497.67" fill="#ff0000"/>
<line x1="101.96" y1="539.00" x2="101.96" y2="542.10" stroke="#ff3c3c" stroke-width="1.0" />
<line x1="98.21" y1="542.10" x2="105.71" y2="542.10" stroke="#ff3c3c" stroke-width="1.0" />
<line x1="131.64" y1="444.45" x2="131.64" y2="461.50" stroke="#ff3c3c" stroke-width="1.0" />
<line x1="127.89" y1="461.50" x2="135.39" y2="461.50" stroke="#ff3c3c" stroke-width="1.0" />
<line x1="178.28" y1="469.25" x2="178.28" y2="481.65" stroke="#ff3c3c" stroke-width="1.0" />
<line x1="174.53" y1="481.65" x2="182.03" y2="481.65" stroke="#ff3c3c" stroke-width="1.0" />
<line x1="229.16" y1="509.55" x2="229.16" y2="517.30" stroke="#ff3c3c" stroke-width="1.0" />
<line x1="225.41" y1="517.30" x2="232.91" y2="517.30" stroke="#ff3c3c" stroke-width="1.0" />
<circle cx="85.00" cy="562.25" r="4.27" fill="#ff3c3c"/>
<circle cx="101.96" cy="539.00" r="4.27" fill="#ff3c3c"/>
<circle cx="131.64" cy="444.45" r="4.27" fill="#ff3c3c"/>
<circle cx="178.28" cy="469.25" r="4.27" fill="#ff3c3c"/>
<circle cx="229.16" cy="509.55" r="4.27" fill="#ff3c3c"/>
<circle cx="280.04" cy="574.65" r="4.27" fill="#ff3c3c"/>
<circle cx="330.92" cy="576.98" r="4.27" fill="#ff3c3c"/>
<line x1="85.00" y1="561.01" x2="85.00" y2="570.31" stroke="#ff8080" stroke-width="1.0" />
<line x1="81.25" y1="570.31" x2="88.75" y2="570.31" stroke="#ff8080" stroke-width="1.0" />
<line x1="101.96" y1="520.40" x2="101.96" y2="529.70" stroke="#ff8080" stroke-width="1.0" />
<line x1="98.21" y1="529.70" x2="105.71" y2="529.70" stroke="#ff8080" stroke-width="1.0" />
<line x1="131.64" y1="552.95" x2="131.64" y2="559.15" stroke="#ff8080" stroke-width="1.0" />
<line x1="127.89" y1="559.15" x2="135.39" y2="559.15" stroke="#ff8080" stroke-width="1.0" />
<rect x="80.95" y="556.96" width="8.10" height="8.10" fill="#ff8080"/>
<rect x="97.91" y="516.35" width="8.10" height="8.10" fill="#ff8080"/>
<rect x="127.59" y="548.90" width="8.10" height="8.10" fill="#ff8080"/>
<rect x="174.23" y="566.88" width="8.10" height="8.10" fill="#ff8080"/>
<rect x="225.11" y="571.69" width="8.10" height="8.10" fill="#ff8080"/>
<rect x="275.99" y="569.98" width="8.10" height="8.10" fill="#ff8080"/>
<rect x="326.87" y="572.62" width="8.10" height="8.10" fill="#ff8080"/>
<line x1="85.00" y1="587.98" x2="85.00" y2="592.63" stroke="#ffa3a3" stroke-width="1.0" />
<line x1="81.25" y1="592.63" x2="88.75" y2="592.63" stroke="#ffa3a3" stroke-width="1.0" />
<line x1="101.96" y1="589.53" x2="101.96" y2="592.63" stroke="#ffa3a3" stroke-width="1.0" />
<line x1="98.21" y1="592.63" x2="105.71" y2="592.63" stroke="#ffa3a3" stroke-width="1.0" />
<line x1="131.64" y1="587.82" x2="131.64" y2="590.92" stroke="#ffa3a3" stroke-width="1.0" />
<line x1="127.89" y1="590.92" x2="135.39" y2="590.92" stroke="#ffa3a3" stroke-width="1.0" />
<line x1="229.16" y1="594.80" x2="229.16" y2="597.90" stroke="#ffa3a3" stroke-width="1.0" />
<line x1="225.41" y1="597.90" x2="232.91" y2="597.90" stroke="#ffa3a3" stroke-width="1.0" />
<polygon points="85.00,583.28 89.50,591.83 80.50,591.83" fill="#ffa3a3"/>
<polygon points="101.96,584.83 106.46,593.38 97.46,593.38" fill="#ffa3a3"/>
<polygon points="131.64,583.12 136.14,591.67 127.14,591.67" fill="#ffa3a3"/>
<polygon points="178.28,593.20 182.78,601.75 173.78,601.75" fill="#ffa3a3"/>
<polygon points="229.16,590.10 233.66,598.65 224.66,598.65" fill="#ffa3a3"/>
<polygon points="280.04,597.85 284.54,606.40 275.54,606.40" fill="#ffa3a3"/>
<polygon points="330.92,593.97 335.42,602.52 326.42,602.52" fill="#ffa3a3"/>
<line x1="101.96" y1="579.30" x2="101.96" y2="583.95" stroke="#000" stroke-width="1.0" />
<line x1="98.21" y1="583.95" x2="105.71" y2="583.95" stroke="#000" stroke-width="1.0" />
<line x1="330.92" y1="581.78" x2="330.92" y2="584.88" stroke="#000" stroke-width="1.0" />
<line x1="327.17" y1="584.88" x2="334.67" y2="584.88" stroke="#000" stroke-width="1.0" />
<circle cx="85.00" cy="580.85" r="3.45" fill="none" stroke="#000" stroke-width="1.1"/>
<circle cx="101.96" cy="579.30" r="3.45" fill="none" stroke="#000" stroke-width="1.1"/>
<circle cx="131.64" cy="583.95" r="3.45" fill="none" stroke="#000" stroke-width="1.1"/>
<circle cx="178.28" cy="574.03" r="3.45" fill="none" stroke="#000" stroke-width="1.1"/>
<circle cx="229.16" cy="575.42" r="3.45" fill="none" stroke="#000" stroke-width="1.1"/>
<circle cx="280.04" cy="582.40" r="3.45" fill="none" stroke="#000" stroke-width="1.1"/>
<circle cx="330.92" cy="581.78" r="3.45" fill="none" stroke="#000" stroke-width="1.1"/>
<text x="76.00" y="536.19" font-size="11.8" font-weight="bold" text-anchor="middle" fill="#000" >***</text>
<text x="85.00" y="545.49" font-size="11.8" font-weight="bold" text-anchor="middle" fill="#000" >***</text>
<text x="101.96" y="519.91" font-size="11.8" font-weight="bold" text-anchor="middle" fill="#000" >***</text>
<text x="101.96" y="554.79" font-size="11.8" font-weight="bold" text-anchor="middle" fill="#000" >**</text>
<text x="101.96" y="488.91" font-size="11.8" font-weight="bold" text-anchor="middle" fill="#000" >***</text>
<text x="145.64" y="450.94" font-size="11.8" font-weight="bold" text-anchor="middle" fill="#000" >***</text>
<text x="132.64" y="472.64" font-size="11.8" font-weight="bold" text-anchor="middle" fill="#000" >***</text>
<text x="179.28" y="466.44" font-size="11.8" font-weight="bold" text-anchor="middle" fill="#000" >***</text>
<text x="178.28" y="523.01" font-size="11.8" font-weight="bold" text-anchor="middle" fill="#000" >***</text>
<text x="229.16" y="527.66" font-size="11.8" font-weight="bold" text-anchor="middle" fill="#000" >***</text>
<text x="229.16" y="496.66" font-size="11.8" font-weight="bold" text-anchor="middle" fill="#000" >***</text>
<text x="280.04" y="528.44" font-size="11.8" font-weight="bold" text-anchor="middle" fill="#000" >***</text>
<text x="330.92" y="526.12" font-size="11.8" font-weight="bold" text-anchor="middle" fill="#000" >***</text>
<line x1="79.60" y1="414.60" x2="332.80" y2="414.60" stroke="#5a5a5a" stroke-width="1.6" />
<line x1="79.60" y1="410.60" x2="79.60" y2="418.60" stroke="#5a5a5a" stroke-width="1.6" />
<line x1="332.80" y1="410.60" x2="332.80" y2="418.60" stroke="#5a5a5a" stroke-width="1.6" />
<text x="165.40" y="410.50" font-size="7.5" font-weight="bold" text-anchor="start" fill="#000" >from 1200-3000 mg/kg</text>
<text x="201.00" y="427.36" font-size="15.2" font-weight="bold" text-anchor="middle" fill="#000" >***</text>
<text x="391.50" y="402.40" font-size="24" font-weight="bold" text-anchor="middle" fill="#000" >d</text>
<text x="544.80" y="327.20" font-size="16.6" font-weight="bold" text-anchor="middle" fill="#000" >GHB</text>
<line x1="454.00" y1="337.60" x2="464.00" y2="337.60" stroke="#000" stroke-width="1.2" />
<circle cx="459.00" cy="337.60" r="3.70" fill="none" stroke="#000" stroke-width="1.1"/>
<text x="470.40" y="341.80" font-size="13.3" font-weight="bold" text-anchor="start" fill="#000" >vehicle</text>
<line x1="454.00" y1="351.60" x2="464.00" y2="351.60" stroke="#ffa3a3" stroke-width="1.2" />
<polygon points="459.00,347.16 463.25,355.23 454.75,355.23" fill="#ffa3a3"/>
<text x="470.40" y="355.80" font-size="13.3" font-weight="bold" text-anchor="start" fill="#000" >100 mg/kg</text>
<line x1="454.00" y1="364.20" x2="464.00" y2="364.20" stroke="#ff8080" stroke-width="1.2" />
<rect x="455.18" y="360.38" width="7.65" height="7.65" fill="#ff8080"/>
<text x="470.40" y="368.40" font-size="13.3" font-weight="bold" text-anchor="start" fill="#000" >200 mg/kg</text>
<line x1="454.00" y1="377.60" x2="464.00" y2="377.60" stroke="#ff3c3c" stroke-width="1.2" />
<circle cx="459.00" cy="377.60" r="4.04" fill="#ff3c3c"/>
<text x="470.40" y="381.80" font-size="13.3" font-weight="bold" text-anchor="start" fill="#000" >400 mg/kg</text>
<line x1="552.00" y1="339.60" x2="562.00" y2="339.60" stroke="#ff0000" stroke-width="1.2" />
<polygon points="552.75,335.97 561.25,335.97 557.00,344.04" fill="#ff0000"/>
<text x="568.00" y="344.20" font-size="13.3" font-weight="bold" text-anchor="start" fill="#000" >600 mg/kg</text>
<line x1="552.00" y1="353.00" x2="562.00" y2="353.00" stroke="#a00000" stroke-width="1.2" />
<polygon points="561.25,353.00 559.12,356.31 554.88,356.31 552.75,353.00 554.88,349.69 559.12,349.69" fill="#a00000"/>
<text x="568.00" y="357.60" font-size="13.3" font-weight="bold" text-anchor="start" fill="#000" >1200 mg/kg</text>
<line x1="552.00" y1="365.60" x2="562.00" y2="365.60" stroke="#5a0000" stroke-width="1.2" />
<polygon points="557.00,361.35 561.25,365.60 557.00,369.85 552.75,365.60" fill="#5a0000"/>
<text x="568.00" y="370.20" font-size="13.3" font-weight="bold" text-anchor="start" fill="#000" >2000 mg/kg</text>
<line x1="552.00" y1="378.40" x2="562.00" y2="378.40" stroke="#000000" stroke-width="1.2" />
<polygon points="557.00,373.96 561.25,382.03 552.75,382.03" fill="#000000"/>
<text x="568.00" y="383.00" font-size="13.3" font-weight="bold" text-anchor="start" fill="#000" >3000 mg/kg</text>
<line x1="400.00" y1="429.00" x2="400.00" y2="615.00" stroke="#000" stroke-width="1.45" />
<line x1="396.60" y1="429.00" x2="400.00" y2="429.00" stroke="#000" stroke-width="1.6" />
<text x="396.10" y="433.50" font-size="11.8" font-weight="bold" text-anchor="end" fill="#000" >100</text>
<line x1="396.60" y1="460.00" x2="400.00" y2="460.00" stroke="#000" stroke-width="1.6" />
<text x="396.10" y="464.50" font-size="11.8" font-weight="bold" text-anchor="end" fill="#000" >80</text>
<line x1="396.60" y1="491.00" x2="400.00" y2="491.00" stroke="#000" stroke-width="1.6" />
<text x="396.10" y="495.50" font-size="11.8" font-weight="bold" text-anchor="end" fill="#000" >60</text>
<line x1="396.60" y1="522.00" x2="400.00" y2="522.00" stroke="#000" stroke-width="1.6" />
<text x="396.10" y="526.50" font-size="11.8" font-weight="bold" text-anchor="end" fill="#000" >40</text>
<line x1="396.60" y1="553.00" x2="400.00" y2="553.00" stroke="#000" stroke-width="1.6" />
<text x="396.10" y="557.50" font-size="11.8" font-weight="bold" text-anchor="end" fill="#000" >20</text>
<line x1="396.60" y1="584.00" x2="400.00" y2="584.00" stroke="#000" stroke-width="1.6" />
<text x="396.10" y="588.50" font-size="11.8" font-weight="bold" text-anchor="end" fill="#000" >0</text>
<line x1="399.30" y1="615.00" x2="680.40" y2="615.00" stroke="#000" stroke-width="1.45" />
<line x1="430.00" y1="615.00" x2="430.00" y2="618.60" stroke="#000" stroke-width="1.6" />
<text x="430.00" y="630.60" font-size="11.8" font-weight="bold" text-anchor="middle" fill="#000" >35</text>
<line x1="446.93" y1="615.00" x2="446.93" y2="618.60" stroke="#000" stroke-width="1.6" />
<text x="446.93" y="630.60" font-size="11.8" font-weight="bold" text-anchor="middle" fill="#000" >55</text>
<line x1="476.56" y1="615.00" x2="476.56" y2="618.60" stroke="#000" stroke-width="1.6" />
<text x="476.56" y="630.60" font-size="11.8" font-weight="bold" text-anchor="middle" fill="#000" >90</text>
<line x1="523.13" y1="615.00" x2="523.13" y2="618.60" stroke="#000" stroke-width="1.6" />
<text x="523.13" y="630.60" font-size="11.8" font-weight="bold" text-anchor="middle" fill="#000" >145</text>
<line x1="573.92" y1="615.00" x2="573.92" y2="618.60" stroke="#000" stroke-width="1.6" />
<text x="573.92" y="630.60" font-size="11.8" font-weight="bold" text-anchor="middle" fill="#000" >205</text>
<line x1="624.72" y1="615.00" x2="624.72" y2="618.60" stroke="#000" stroke-width="1.6" />
<text x="624.72" y="630.60" font-size="11.8" font-weight="bold" text-anchor="middle" fill="#000" >265</text>
<line x1="675.51" y1="615.00" x2="675.51" y2="618.60" stroke="#000" stroke-width="1.6" />
<text x="675.51" y="630.60" font-size="11.8" font-weight="bold" text-anchor="middle" fill="#000" >325</text>
<text x="540.20" y="646.60" font-size="13.6" font-weight="bold" text-anchor="middle" fill="#000" >Time (min)</text>
<text x="377.40" y="519.60" font-size="13.5" font-weight="bold" text-anchor="middle" transform="rotate(-90 377.40 519.60)">Tail Withdrawal (Emax %)</text>
<polyline points="430.00,449.62 446.93,431.01 476.56,429.00 523.13,429.00 573.92,429.00 624.72,429.00 675.51,429.00" fill="none" stroke="#000000" stroke-width="1.0" stroke-linejoin="round"/>
<polyline points="430.00,544.01 446.93,452.40 476.56,429.00 523.13,429.00 573.92,429.00 624.72,429.00 675.51,506.81" fill="none" stroke="#5a0000" stroke-width="1.0" stroke-linejoin="round"/>
<polyline points="430.00,526.96 446.93,501.07 476.56,429.00 523.13,436.75 573.92,433.65 624.72,429.00 675.51,506.50" fill="none" stroke="#a00000" stroke-width="1.0" stroke-linejoin="round"/>
<polyline points="430.00,556.10 446.93,478.60 476.56,462.01 523.13,443.73 573.92,466.98 624.72,486.97 675.51,545.25" fill="none" stroke="#ff0000" stroke-width="1.0" stroke-linejoin="round"/>
<polyline points="430.00,576.25 446.93,571.60 476.56,499.06 523.13,467.75 573.92,545.87 624.72,581.67 675.51,577.80" fill="none" stroke="#ff3c3c" stroke-width="1.0" stroke-linejoin="round"/>
<polyline points="430.00,577.02 446.93,572.07 476.56,570.05 523.13,577.02 573.92,573.15 624.72,573.15 675.51,578.88" fill="none" stroke="#ff8080" stroke-width="1.0" stroke-linejoin="round"/>
<polyline points="430.00,573.15 446.93,557.03 476.56,577.02 523.13,575.63 573.92,576.25 624.72,576.25 675.51,579.35" fill="none" stroke="#ffa3a3" stroke-width="1.0" stroke-linejoin="round"/>
<polyline points="430.00,584.00 446.93,582.45 476.56,582.45 523.13,584.00 573.92,580.90 624.72,581.67 675.51,584.00" fill="none" stroke="#000000" stroke-width="1.0" stroke-linejoin="round"/>
<line x1="430.00" y1="449.62" x2="430.00" y2="457.37" stroke="#000000" stroke-width="1.0" />
<line x1="426.25" y1="457.37" x2="433.75" y2="457.37" stroke="#000000" stroke-width="1.0" />
<polygon points="430.00,444.91 434.50,453.46 425.50,453.46" fill="#000000"/>
<polygon points="446.93,426.31 451.43,434.86 442.43,434.86" fill="#000000"/>
<polygon points="476.56,424.30 481.06,432.85 472.06,432.85" fill="#000000"/>
<polygon points="523.13,424.30 527.63,432.85 518.63,432.85" fill="#000000"/>
<polygon points="573.92,424.30 578.42,432.85 569.42,432.85" fill="#000000"/>
<polygon points="624.72,424.30 629.22,432.85 620.22,432.85" fill="#000000"/>
<polygon points="675.51,424.30 680.01,432.85 671.01,432.85" fill="#000000"/>
<line x1="430.00" y1="544.01" x2="430.00" y2="550.21" stroke="#5a0000" stroke-width="1.0" />
<line x1="426.25" y1="550.21" x2="433.75" y2="550.21" stroke="#5a0000" stroke-width="1.0" />
<line x1="446.93" y1="452.40" x2="446.93" y2="461.70" stroke="#5a0000" stroke-width="1.0" />
<line x1="443.18" y1="461.70" x2="450.68" y2="461.70" stroke="#5a0000" stroke-width="1.0" />
<line x1="675.51" y1="506.81" x2="675.51" y2="517.66" stroke="#5a0000" stroke-width="1.0" />
<line x1="671.76" y1="517.66" x2="679.26" y2="517.66" stroke="#5a0000" stroke-width="1.0" />
<polygon points="430.00,539.51 434.50,544.01 430.00,548.51 425.50,544.01" fill="#5a0000"/>
<polygon points="446.93,447.90 451.43,452.40 446.93,456.90 442.43,452.40" fill="#5a0000"/>
<polygon points="476.56,424.50 481.06,429.00 476.56,433.50 472.06,429.00" fill="#5a0000"/>
<polygon points="523.13,424.50 527.63,429.00 523.13,433.50 518.63,429.00" fill="#5a0000"/>
<polygon points="573.92,424.50 578.42,429.00 573.92,433.50 569.42,429.00" fill="#5a0000"/>
<polygon points="624.72,424.50 629.22,429.00 624.72,433.50 620.22,429.00" fill="#5a0000"/>
<polygon points="675.51,502.31 680.01,506.81 675.51,511.31 671.01,506.81" fill="#5a0000"/>
<line x1="430.00" y1="526.96" x2="430.00" y2="533.16" stroke="#a00000" stroke-width="1.0" />
<line x1="426.25" y1="533.16" x2="433.75" y2="533.16" stroke="#a00000" stroke-width="1.0" />
<polygon points="434.50,526.96 432.25,530.47 427.75,530.47 425.50,526.96 427.75,523.45 432.25,523.45" fill="#a00000"/>
<polygon points="451.43,501.07 449.18,504.58 444.68,504.58 442.43,501.07 444.68,497.57 449.18,497.57" fill="#a00000"/>
<polygon points="481.06,429.00 478.81,432.51 474.31,432.51 472.06,429.00 474.31,425.49 478.81,425.49" fill="#a00000"/>
<polygon points="527.63,436.75 525.38,440.26 520.88,440.26 518.63,436.75 520.88,433.24 525.38,433.24" fill="#a00000"/>
<polygon points="578.42,433.65 576.17,437.16 571.67,437.16 569.42,433.65 571.67,430.14 576.17,430.14" fill="#a00000"/>
<polygon points="629.22,429.00 626.97,432.51 622.47,432.51 620.22,429.00 622.47,425.49 626.97,425.49" fill="#a00000"/>
<polygon points="680.01,506.50 677.76,510.01 673.26,510.01 671.01,506.50 673.26,502.99 677.76,502.99" fill="#a00000"/>
<line x1="430.00" y1="556.10" x2="430.00" y2="566.95" stroke="#ff0000" stroke-width="1.0" />
<line x1="426.25" y1="566.95" x2="433.75" y2="566.95" stroke="#ff0000" stroke-width="1.0" />
<line x1="446.93" y1="478.60" x2="446.93" y2="484.80" stroke="#ff0000" stroke-width="1.0" />
<line x1="443.18" y1="484.80" x2="450.68" y2="484.80" stroke="#ff0000" stroke-width="1.0" />
<line x1="476.56" y1="462.01" x2="476.56" y2="469.76" stroke="#ff0000" stroke-width="1.0" />
<line x1="472.81" y1="469.76" x2="480.31" y2="469.76" stroke="#ff0000" stroke-width="1.0" />
<line x1="523.13" y1="443.73" x2="523.13" y2="451.48" stroke="#ff0000" stroke-width="1.0" />
<line x1="519.38" y1="451.48" x2="526.88" y2="451.48" stroke="#ff0000" stroke-width="1.0" />
<line x1="573.92" y1="466.98" x2="573.92" y2="477.82" stroke="#ff0000" stroke-width="1.0" />
<line x1="570.17" y1="477.82" x2="577.67" y2="477.82" stroke="#ff0000" stroke-width="1.0" />
<line x1="624.72" y1="486.97" x2="624.72" y2="491.62" stroke="#ff0000" stroke-width="1.0" />
<line x1="620.97" y1="491.62" x2="628.47" y2="491.62" stroke="#ff0000" stroke-width="1.0" />
<line x1="675.51" y1="545.25" x2="675.51" y2="549.90" stroke="#ff0000" stroke-width="1.0" />
<line x1="671.76" y1="549.90" x2="679.26" y2="549.90" stroke="#ff0000" stroke-width="1.0" />
<polygon points="425.50,552.25 434.50,552.25 430.00,560.80" fill="#ff0000"/>
<polygon points="442.43,474.75 451.43,474.75 446.93,483.30" fill="#ff0000"/>
<polygon points="472.06,458.17 481.06,458.17 476.56,466.72" fill="#ff0000"/>
<polygon points="518.63,439.88 527.63,439.88 523.13,448.43" fill="#ff0000"/>
<polygon points="569.42,463.13 578.42,463.13 573.92,471.68" fill="#ff0000"/>
<polygon points="620.22,483.12 629.22,483.12 624.72,491.67" fill="#ff0000"/>
<polygon points="671.01,541.40 680.01,541.40 675.51,549.95" fill="#ff0000"/>
<line x1="476.56" y1="499.06" x2="476.56" y2="519.21" stroke="#ff3c3c" stroke-width="1.0" />
<line x1="472.81" y1="519.21" x2="480.31" y2="519.21" stroke="#ff3c3c" stroke-width="1.0" />
<line x1="523.13" y1="467.75" x2="523.13" y2="489.45" stroke="#ff3c3c" stroke-width="1.0" />
<line x1="519.38" y1="489.45" x2="526.88" y2="489.45" stroke="#ff3c3c" stroke-width="1.0" />
<line x1="573.92" y1="545.87" x2="573.92" y2="553.62" stroke="#ff3c3c" stroke-width="1.0" />
<line x1="570.17" y1="553.62" x2="577.67" y2="553.62" stroke="#ff3c3c" stroke-width="1.0" />
<circle cx="430.00" cy="576.25" r="4.27" fill="#ff3c3c"/>
<circle cx="446.93" cy="571.60" r="4.27" fill="#ff3c3c"/>
<circle cx="476.56" cy="499.06" r="4.27" fill="#ff3c3c"/>
<circle cx="523.13" cy="467.75" r="4.27" fill="#ff3c3c"/>
<circle cx="573.92" cy="545.87" r="4.27" fill="#ff3c3c"/>
<circle cx="624.72" cy="581.67" r="4.27" fill="#ff3c3c"/>
<circle cx="675.51" cy="577.80" r="4.27" fill="#ff3c3c"/>
<rect x="425.95" y="572.98" width="8.10" height="8.10" fill="#ff8080"/>
<rect x="442.88" y="568.02" width="8.10" height="8.10" fill="#ff8080"/>
<rect x="472.51" y="566.00" width="8.10" height="8.10" fill="#ff8080"/>
<rect x="519.08" y="572.98" width="8.10" height="8.10" fill="#ff8080"/>
<rect x="569.87" y="569.10" width="8.10" height="8.10" fill="#ff8080"/>
<rect x="620.67" y="569.10" width="8.10" height="8.10" fill="#ff8080"/>
<rect x="671.46" y="574.84" width="8.10" height="8.10" fill="#ff8080"/>
<polygon points="430.00,568.45 434.50,577.00 425.50,577.00" fill="#ffa3a3"/>
<polygon points="446.93,552.33 451.43,560.88 442.43,560.88" fill="#ffa3a3"/>
<polygon points="476.56,572.32 481.06,580.87 472.06,580.87" fill="#ffa3a3"/>
<polygon points="523.13,570.93 527.63,579.48 518.63,579.48" fill="#ffa3a3"/>
<polygon points="573.92,571.55 578.42,580.10 569.42,580.10" fill="#ffa3a3"/>
<polygon points="624.72,571.55 629.22,580.10 620.22,580.10" fill="#ffa3a3"/>
<polygon points="675.51,574.65 680.01,583.20 671.01,583.20" fill="#ffa3a3"/>
<circle cx="430.00" cy="584.00" r="3.45" fill="none" stroke="#000" stroke-width="1.1"/>
<circle cx="446.93" cy="582.45" r="3.45" fill="none" stroke="#000" stroke-width="1.1"/>
<circle cx="476.56" cy="582.45" r="3.45" fill="none" stroke="#000" stroke-width="1.1"/>
<circle cx="523.13" cy="584.00" r="3.45" fill="none" stroke="#000" stroke-width="1.1"/>
<circle cx="573.92" cy="580.90" r="3.45" fill="none" stroke="#000" stroke-width="1.1"/>
<circle cx="624.72" cy="581.67" r="3.45" fill="none" stroke="#000" stroke-width="1.1"/>
<circle cx="675.51" cy="584.00" r="3.45" fill="none" stroke="#000" stroke-width="1.1"/>
<text x="422.00" y="577.32" font-size="11.8" font-weight="bold" text-anchor="middle" fill="#000" >**</text>
<text x="446.93" y="570.34" font-size="11.8" font-weight="bold" text-anchor="middle" fill="#000" >*</text>
<text x="446.93" y="494.39" font-size="11.8" font-weight="bold" text-anchor="middle" fill="#000" >***</text>
<text x="476.56" y="478.89" font-size="11.8" font-weight="bold" text-anchor="middle" fill="#000" >***</text>
<text x="476.56" y="530.04" font-size="11.8" font-weight="bold" text-anchor="middle" fill="#000" >***</text>
<text x="523.13" y="463.39" font-size="11.8" font-weight="bold" text-anchor="middle" fill="#000" >***</text>
<text x="523.13" y="500.59" font-size="11.8" font-weight="bold" text-anchor="middle" fill="#000" >***</text>
<text x="573.92" y="488.19" font-size="11.8" font-weight="bold" text-anchor="middle" fill="#000" >***</text>
<text x="573.92" y="565.69" font-size="11.8" font-weight="bold" text-anchor="middle" fill="#000" >**</text>
<text x="624.72" y="503.69" font-size="11.8" font-weight="bold" text-anchor="middle" fill="#000" >***</text>
<text x="675.51" y="561.82" font-size="11.8" font-weight="bold" text-anchor="middle" fill="#000" >***</text>
<line x1="423.40" y1="416.70" x2="676.90" y2="416.70" stroke="#5a5a5a" stroke-width="1.6" />
<line x1="423.40" y1="412.70" x2="423.40" y2="420.70" stroke="#5a5a5a" stroke-width="1.6" />
<line x1="676.90" y1="412.70" x2="676.90" y2="420.70" stroke="#5a5a5a" stroke-width="1.6" />
<text x="510.80" y="413.00" font-size="7.5" font-weight="bold" text-anchor="start" fill="#000" >from 1200-3000 mg/kg</text>
<text x="551.00" y="429.36" font-size="15.2" font-weight="bold" text-anchor="middle" fill="#000" >***</text>
<text x="44.00" y="675.00" font-size="24" font-weight="bold" text-anchor="middle" fill="#000" >e</text>
<line x1="55.50" y1="694.00" x2="55.50" y2="880.72" stroke="#000" stroke-width="1.45" />
<line x1="52.10" y1="694.00" x2="55.50" y2="694.00" stroke="#000" stroke-width="1.6" />
<text x="51.60" y="698.50" font-size="11.8" font-weight="bold" text-anchor="end" fill="#000" >100</text>
<line x1="52.10" y1="725.12" x2="55.50" y2="725.12" stroke="#000" stroke-width="1.6" />
<text x="51.60" y="729.62" font-size="11.8" font-weight="bold" text-anchor="end" fill="#000" >80</text>
<line x1="52.10" y1="756.24" x2="55.50" y2="756.24" stroke="#000" stroke-width="1.6" />
<text x="51.60" y="760.74" font-size="11.8" font-weight="bold" text-anchor="end" fill="#000" >60</text>
<line x1="52.10" y1="787.36" x2="55.50" y2="787.36" stroke="#000" stroke-width="1.6" />
<text x="51.60" y="791.86" font-size="11.8" font-weight="bold" text-anchor="end" fill="#000" >40</text>
<line x1="52.10" y1="818.48" x2="55.50" y2="818.48" stroke="#000" stroke-width="1.6" />
<text x="51.60" y="822.98" font-size="11.8" font-weight="bold" text-anchor="end" fill="#000" >20</text>
<line x1="52.10" y1="849.60" x2="55.50" y2="849.60" stroke="#000" stroke-width="1.6" />
<text x="51.60" y="854.10" font-size="11.8" font-weight="bold" text-anchor="end" fill="#000" >0</text>
<line x1="54.80" y1="880.72" x2="336.00" y2="880.72" stroke="#000" stroke-width="1.45" />
<line x1="99.60" y1="880.72" x2="99.60" y2="884.32" stroke="#000" stroke-width="1.6" />
<text x="99.90" y="892.52" font-size="11.7" font-weight="bold" text-anchor="end" transform="rotate(-45 99.90 892.52)">100</text>
<line x1="143.94" y1="880.72" x2="143.94" y2="884.32" stroke="#000" stroke-width="1.6" />
<text x="144.24" y="892.52" font-size="11.7" font-weight="bold" text-anchor="end" transform="rotate(-45 144.24 892.52)">200</text>
<line x1="188.28" y1="880.72" x2="188.28" y2="884.32" stroke="#000" stroke-width="1.6" />
<text x="188.58" y="892.52" font-size="11.7" font-weight="bold" text-anchor="end" transform="rotate(-45 188.58 892.52)">400</text>
<line x1="214.22" y1="880.72" x2="214.22" y2="884.32" stroke="#000" stroke-width="1.6" />
<text x="214.52" y="892.52" font-size="11.7" font-weight="bold" text-anchor="end" transform="rotate(-45 214.52 892.52)">600</text>
<line x1="258.56" y1="880.72" x2="258.56" y2="884.32" stroke="#000" stroke-width="1.6" />
<text x="258.86" y="892.52" font-size="11.7" font-weight="bold" text-anchor="end" transform="rotate(-45 258.86 892.52)">1200</text>
<line x1="291.24" y1="880.72" x2="291.24" y2="884.32" stroke="#000" stroke-width="1.6" />
<text x="291.54" y="892.52" font-size="11.7" font-weight="bold" text-anchor="end" transform="rotate(-45 291.54 892.52)">2000</text>
<line x1="317.18" y1="880.72" x2="317.18" y2="884.32" stroke="#000" stroke-width="1.6" />
<text x="317.48" y="892.52" font-size="11.7" font-weight="bold" text-anchor="end" transform="rotate(-45 317.48 892.52)">3000</text>
<text x="188.50" y="928.00" font-size="13.3" font-weight="bold" text-anchor="middle" fill="#000" >(mg/kg)</text>
<text x="10.60" y="784.50" font-size="13.5" font-weight="bold" text-anchor="middle" transform="rotate(-90 10.60 784.50)">Tail Pinch</text>
<text x="26.00" y="784.50" font-size="13.5" font-weight="bold" text-anchor="middle" transform="rotate(-90 26.00 784.50)">E max (Emax %)</text>
<polyline points="99.60,847.89 143.94,847.42 188.28,847.27 214.22,847.27 258.56,846.02 291.24,807.28 317.18,750.79" fill="none" stroke="#0000ff" stroke-width="1.05" stroke-linejoin="round"/>
<polyline points="99.60,853.33 143.94,787.83 188.28,711.74 214.22,712.98 258.56,694.47 291.24,694.00 317.18,694.00" fill="none" stroke="#ff0000" stroke-width="1.05" stroke-linejoin="round"/>
<line x1="143.94" y1="847.42" x2="143.94" y2="855.20" stroke="#0000ff" stroke-width="1.05" />
<line x1="140.19" y1="855.20" x2="147.69" y2="855.20" stroke="#0000ff" stroke-width="1.05" />
<line x1="258.56" y1="846.02" x2="258.56" y2="852.25" stroke="#0000ff" stroke-width="1.05" />
<line x1="254.81" y1="852.25" x2="262.31" y2="852.25" stroke="#0000ff" stroke-width="1.05" />
<line x1="291.24" y1="807.28" x2="291.24" y2="830.62" stroke="#0000ff" stroke-width="1.05" />
<line x1="287.49" y1="830.62" x2="294.99" y2="830.62" stroke="#0000ff" stroke-width="1.05" />
<line x1="317.18" y1="750.79" x2="317.18" y2="767.91" stroke="#0000ff" stroke-width="1.05" />
<line x1="313.43" y1="767.91" x2="320.93" y2="767.91" stroke="#0000ff" stroke-width="1.05" />
<polygon points="99.60,842.87 104.40,851.99 94.80,851.99" fill="#0000ff"/>
<polygon points="143.94,842.41 148.74,851.53 139.14,851.53" fill="#0000ff"/>
<polygon points="188.28,842.25 193.08,851.37 183.48,851.37" fill="#0000ff"/>
<polygon points="214.22,842.25 219.02,851.37 209.42,851.37" fill="#0000ff"/>
<polygon points="258.56,841.01 263.36,850.13 253.76,850.13" fill="#0000ff"/>
<polygon points="291.24,802.26 296.04,811.38 286.44,811.38" fill="#0000ff"/>
<polygon points="317.18,745.78 321.98,754.90 312.38,754.90" fill="#0000ff"/>
<line x1="99.60" y1="853.33" x2="99.60" y2="860.34" stroke="#ff0000" stroke-width="1.05" />
<line x1="95.85" y1="860.34" x2="103.35" y2="860.34" stroke="#ff0000" stroke-width="1.05" />
<line x1="143.94" y1="787.83" x2="143.94" y2="809.61" stroke="#ff0000" stroke-width="1.05" />
<line x1="140.19" y1="809.61" x2="147.69" y2="809.61" stroke="#ff0000" stroke-width="1.05" />
<line x1="188.28" y1="711.74" x2="188.28" y2="719.52" stroke="#ff0000" stroke-width="1.05" />
<line x1="184.53" y1="719.52" x2="192.03" y2="719.52" stroke="#ff0000" stroke-width="1.05" />
<line x1="214.22" y1="712.98" x2="214.22" y2="728.54" stroke="#ff0000" stroke-width="1.05" />
<line x1="210.47" y1="728.54" x2="217.97" y2="728.54" stroke="#ff0000" stroke-width="1.05" />
<circle cx="99.60" cy="853.33" r="4.37" fill="#ff0000"/>
<circle cx="143.94" cy="787.83" r="4.37" fill="#ff0000"/>
<circle cx="188.28" cy="711.74" r="4.37" fill="#ff0000"/>
<circle cx="214.22" cy="712.98" r="4.37" fill="#ff0000"/>
<circle cx="258.56" cy="694.47" r="4.37" fill="#ff0000"/>
<circle cx="291.24" cy="694.00" r="4.37" fill="#ff0000"/>
<circle cx="317.18" cy="694.00" r="4.37" fill="#ff0000"/>
<text x="143.94" y="819.80" font-size="10" font-weight="bold" text-anchor="middle" fill="#000" >##</text>
<text x="188.28" y="731.80" font-size="10" font-weight="bold" text-anchor="middle" fill="#000" >###</text>
<text x="214.22" y="739.20" font-size="10" font-weight="bold" text-anchor="middle" fill="#000" >###</text>
<text x="258.56" y="708.80" font-size="10" font-weight="bold" text-anchor="middle" fill="#000" >###</text>
<text x="291.24" y="707.40" font-size="10" font-weight="bold" text-anchor="middle" fill="#000" >###</text>
<text x="317.18" y="708.80" font-size="10" font-weight="bold" text-anchor="middle" fill="#000" >#</text>
<polygon points="69.00,792.58 73.80,801.70 64.20,801.70" fill="#0000ff"/>
<line x1="63.50" y1="797.60" x2="74.50" y2="797.60" stroke="#0000ff" stroke-width="1.2" />
<text x="81.00" y="802.20" font-size="13.5" font-weight="bold" text-anchor="start" fill="#000" >NMP</text>
<circle cx="69.00" cy="809.00" r="4.56" fill="#ff0000"/>
<text x="81.00" y="813.60" font-size="13.5" font-weight="bold" text-anchor="start" fill="#000" >GHB</text>
<text x="388.50" y="674.40" font-size="24" font-weight="bold" text-anchor="middle" fill="#000" >f</text>
<line x1="399.60" y1="694.00" x2="399.60" y2="880.72" stroke="#000" stroke-width="1.45" />
<line x1="396.20" y1="694.00" x2="399.60" y2="694.00" stroke="#000" stroke-width="1.6" />
<text x="395.70" y="698.50" font-size="11.8" font-weight="bold" text-anchor="end" fill="#000" >100</text>
<line x1="396.20" y1="725.12" x2="399.60" y2="725.12" stroke="#000" stroke-width="1.6" />
<text x="395.70" y="729.62" font-size="11.8" font-weight="bold" text-anchor="end" fill="#000" >80</text>
<line x1="396.20" y1="756.24" x2="399.60" y2="756.24" stroke="#000" stroke-width="1.6" />
<text x="395.70" y="760.74" font-size="11.8" font-weight="bold" text-anchor="end" fill="#000" >60</text>
<line x1="396.20" y1="787.36" x2="399.60" y2="787.36" stroke="#000" stroke-width="1.6" />
<text x="395.70" y="791.86" font-size="11.8" font-weight="bold" text-anchor="end" fill="#000" >40</text>
<line x1="396.20" y1="818.48" x2="399.60" y2="818.48" stroke="#000" stroke-width="1.6" />
<text x="395.70" y="822.98" font-size="11.8" font-weight="bold" text-anchor="end" fill="#000" >20</text>
<line x1="396.20" y1="849.60" x2="399.60" y2="849.60" stroke="#000" stroke-width="1.6" />
<text x="395.70" y="854.10" font-size="11.8" font-weight="bold" text-anchor="end" fill="#000" >0</text>
<line x1="398.90" y1="880.72" x2="680.40" y2="880.72" stroke="#000" stroke-width="1.45" />
<line x1="444.40" y1="880.72" x2="444.40" y2="884.32" stroke="#000" stroke-width="1.6" />
<text x="446.60" y="892.52" font-size="11.7" font-weight="bold" text-anchor="end" transform="rotate(-45 446.60 892.52)">100</text>
<line x1="488.65" y1="880.72" x2="488.65" y2="884.32" stroke="#000" stroke-width="1.6" />
<text x="490.85" y="892.52" font-size="11.7" font-weight="bold" text-anchor="end" transform="rotate(-45 490.85 892.52)">200</text>
<line x1="532.90" y1="880.72" x2="532.90" y2="884.32" stroke="#000" stroke-width="1.6" />
<text x="535.10" y="892.52" font-size="11.7" font-weight="bold" text-anchor="end" transform="rotate(-45 535.10 892.52)">400</text>
<line x1="558.79" y1="880.72" x2="558.79" y2="884.32" stroke="#000" stroke-width="1.6" />
<text x="560.99" y="892.52" font-size="11.7" font-weight="bold" text-anchor="end" transform="rotate(-45 560.99 892.52)">600</text>
<line x1="603.04" y1="880.72" x2="603.04" y2="884.32" stroke="#000" stroke-width="1.6" />
<text x="605.24" y="892.52" font-size="11.7" font-weight="bold" text-anchor="end" transform="rotate(-45 605.24 892.52)">1200</text>
<line x1="635.65" y1="880.72" x2="635.65" y2="884.32" stroke="#000" stroke-width="1.6" />
<text x="637.85" y="892.52" font-size="11.7" font-weight="bold" text-anchor="end" transform="rotate(-45 637.85 892.52)">2000</text>
<line x1="661.54" y1="880.72" x2="661.54" y2="884.32" stroke="#000" stroke-width="1.6" />
<text x="663.74" y="892.52" font-size="11.7" font-weight="bold" text-anchor="end" transform="rotate(-45 663.74 892.52)">3000</text>
<text x="536.50" y="920.00" font-size="13.3" font-weight="bold" text-anchor="middle" fill="#000" >(mg/kg)</text>
<text x="356.50" y="784.60" font-size="13.5" font-weight="bold" text-anchor="middle" transform="rotate(-90 356.50 784.60)">Tail Withdrawal</text>
<text x="370.70" y="784.60" font-size="13.5" font-weight="bold" text-anchor="middle" transform="rotate(-90 370.70 784.60)">E max (Emax %)</text>
<polyline points="444.40,849.60 488.65,848.67 532.90,849.60 558.79,849.60 603.04,846.64 635.65,844.31 661.54,825.48" fill="none" stroke="#0000ff" stroke-width="1.05" stroke-linejoin="round"/>
<polyline points="444.40,822.06 488.65,835.60 532.90,733.52 558.79,710.34 603.04,694.47 635.65,694.00 661.54,694.00" fill="none" stroke="#ff0000" stroke-width="1.05" stroke-linejoin="round"/>
<line x1="635.65" y1="844.31" x2="635.65" y2="851.31" stroke="#0000ff" stroke-width="1.05" />
<line x1="631.90" y1="851.31" x2="639.40" y2="851.31" stroke="#0000ff" stroke-width="1.05" />
<line x1="661.54" y1="825.48" x2="661.54" y2="844.93" stroke="#0000ff" stroke-width="1.05" />
<line x1="657.79" y1="844.93" x2="665.29" y2="844.93" stroke="#0000ff" stroke-width="1.05" />
<polygon points="444.40,844.58 449.20,853.70 439.60,853.70" fill="#0000ff"/>
<polygon points="488.65,843.65 493.45,852.77 483.85,852.77" fill="#0000ff"/>
<polygon points="532.90,844.58 537.70,853.70 528.10,853.70" fill="#0000ff"/>
<polygon points="558.79,844.58 563.59,853.70 553.99,853.70" fill="#0000ff"/>
<polygon points="603.04,841.63 607.84,850.75 598.24,850.75" fill="#0000ff"/>
<polygon points="635.65,839.29 640.45,848.41 630.85,848.41" fill="#0000ff"/>
<polygon points="661.54,820.47 666.34,829.59 656.74,829.59" fill="#0000ff"/>
<line x1="532.90" y1="733.52" x2="532.90" y2="755.31" stroke="#ff0000" stroke-width="1.05" />
<line x1="529.15" y1="755.31" x2="536.65" y2="755.31" stroke="#ff0000" stroke-width="1.05" />
<line x1="558.79" y1="710.34" x2="558.79" y2="725.90" stroke="#ff0000" stroke-width="1.05" />
<line x1="555.04" y1="725.90" x2="562.54" y2="725.90" stroke="#ff0000" stroke-width="1.05" />
<circle cx="444.40" cy="822.06" r="4.37" fill="#ff0000"/>
<circle cx="488.65" cy="835.60" r="4.37" fill="#ff0000"/>
<circle cx="532.90" cy="733.52" r="4.37" fill="#ff0000"/>
<circle cx="558.79" cy="710.34" r="4.37" fill="#ff0000"/>
<circle cx="603.04" cy="694.47" r="4.37" fill="#ff0000"/>
<circle cx="635.65" cy="694.00" r="4.37" fill="#ff0000"/>
<circle cx="661.54" cy="694.00" r="4.37" fill="#ff0000"/>
<text x="532.90" y="765.90" font-size="10" font-weight="bold" text-anchor="middle" fill="#000" >###</text>
<text x="558.79" y="737.10" font-size="10" font-weight="bold" text-anchor="middle" fill="#000" >###</text>
<text x="603.04" y="710.80" font-size="10" font-weight="bold" text-anchor="middle" fill="#000" >###</text>
<text x="635.65" y="710.80" font-size="10" font-weight="bold" text-anchor="middle" fill="#000" >###</text>
<text x="661.54" y="710.20" font-size="10" font-weight="bold" text-anchor="middle" fill="#000" >###</text>
<polygon points="416.00,790.58 420.80,799.70 411.20,799.70" fill="#0000ff"/>
<line x1="410.50" y1="795.60" x2="421.50" y2="795.60" stroke="#0000ff" stroke-width="1.2" />
<text x="428.00" y="800.20" font-size="13.5" font-weight="bold" text-anchor="start" fill="#000" >NMP</text>
<circle cx="416.00" cy="807.00" r="4.56" fill="#ff0000"/>
<text x="428.00" y="811.60" font-size="13.5" font-weight="bold" text-anchor="start" fill="#000" >GHB</text></svg>
</body></html>
